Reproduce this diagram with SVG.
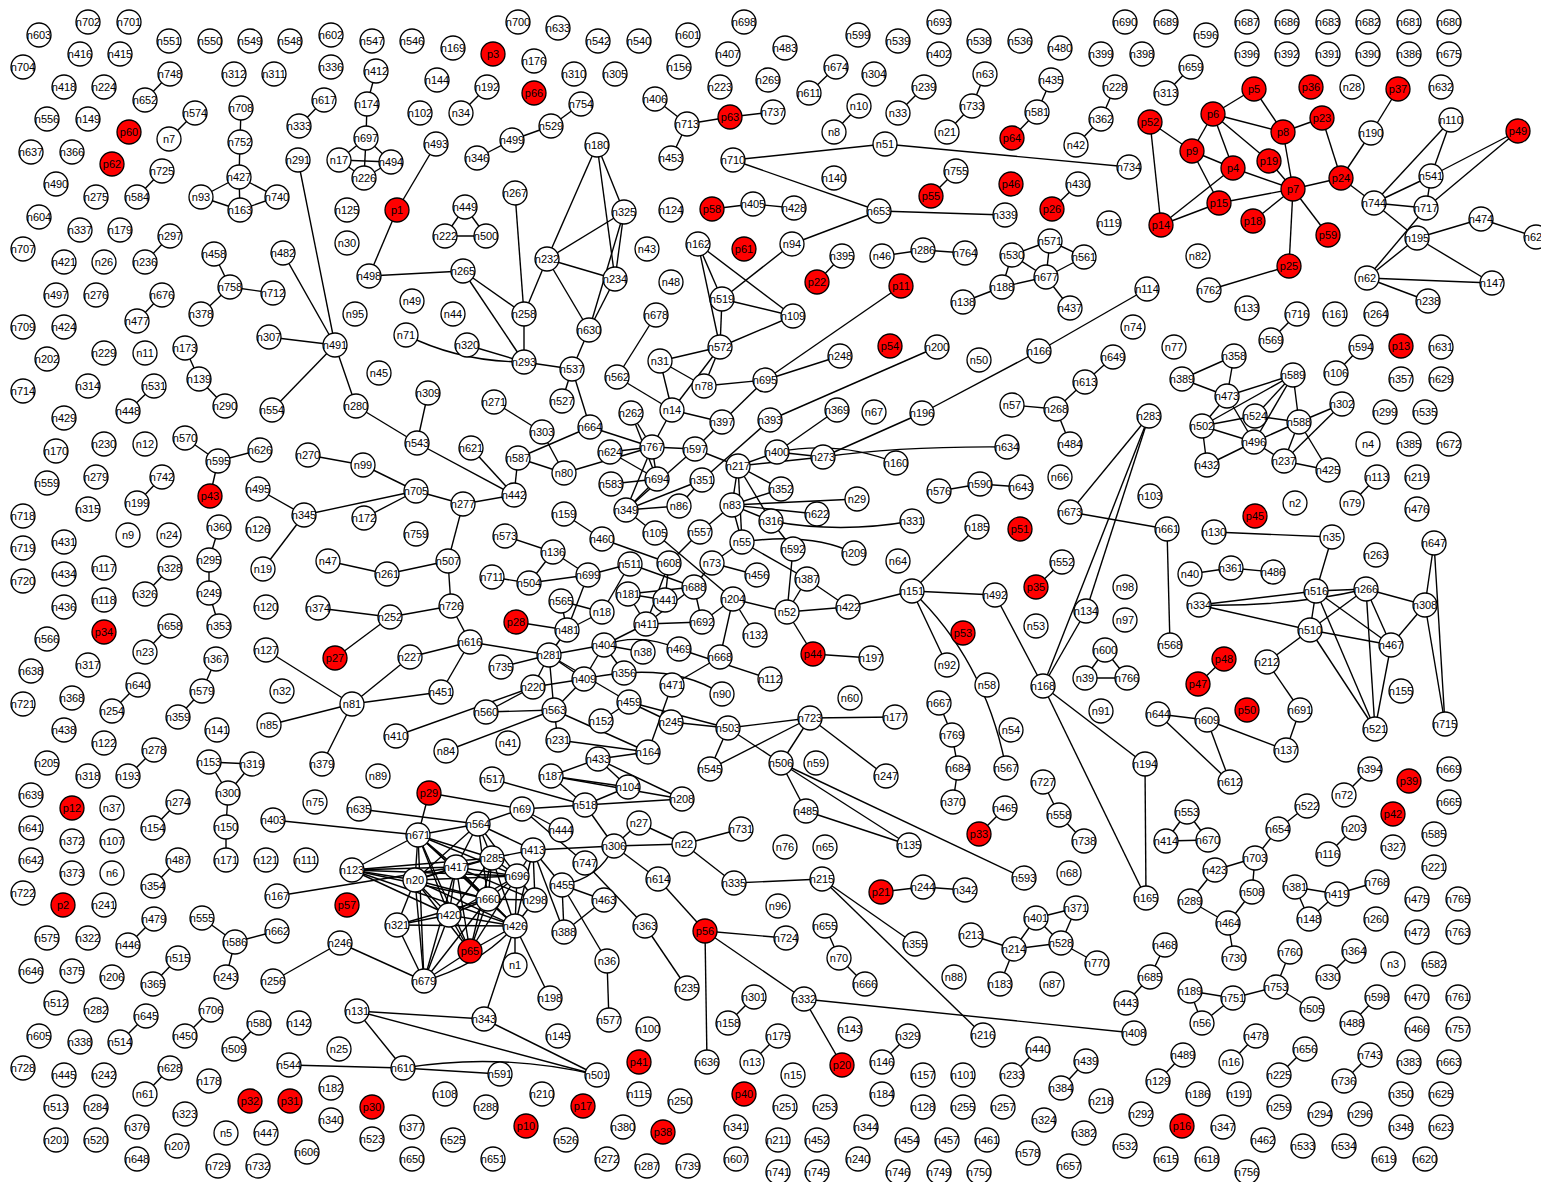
<svg xmlns="http://www.w3.org/2000/svg" width="1541" height="1182" viewBox="0 0 1541 1182">
<style>
.e path{stroke:#000;stroke-width:1.4;fill:none}
.nd circle{fill:#fff;stroke:#000;stroke-width:1.3}
.nd .p circle{fill:#f00}
.nd text{font-family:"Liberation Sans",Arial,sans-serif;font-size:11px;text-anchor:middle;dominant-baseline:central;fill:#000}
</style>
<rect width="1541" height="1182" fill="#fff"/>
<g class="e">
<path d="M170 74L145 100"/><path d="M195 113L169 139"/><path d="M162 171L137 197"/><path d="M170 236L145 262"/><path d="M162 295L137 321"/>
<path d="M241 108L240 142"/><path d="M240 142L239 177"/><path d="M239 177L201 197"/><path d="M239 177L277 197"/><path d="M239 177L240 210"/><path d="M201 197L240 210"/><path d="M240 210L277 197"/>
<path d="M214 254L230 287"/><path d="M230 287L273 293"/><path d="M230 287L201 314"/><path d="M324 100L299 126"/><path d="M376 71L367 104"/><path d="M367 104L366 138"/>
<path d="M366 138L339 160"/><path d="M366 138L391 162"/><path d="M366 138L364 178"/><path d="M339 160L391 162"/><path d="M339 160L364 178"/><path d="M364 178L391 162"/>
<path d="M298 160L335 345"/><path d="M283 253L335 345"/><path d="M269 337L335 345"/><path d="M335 345L272 410"/><path d="M335 345L356 406"/>
<path d="M185 348L199 379"/><path d="M199 379L225 406"/><path d="M436 144L397 210"/><path d="M397 210L369 276"/><path d="M369 276L463 271"/><path d="M128 411L154 386"/>
<path d="M487 87L461 113"/><path d="M581 104L551 126"/><path d="M551 126L512 140"/><path d="M512 140L477 158"/><path d="M465 207L445 236"/><path d="M465 207L486 236"/><path d="M445 236L486 236"/>
<path d="M655 99L687 124"/><path d="M687 124L730 117"/><path d="M730 117L773 112"/><path d="M687 124L671 158"/><path d="M733 160L885 144"/><path d="M733 160L879 211"/><path d="M885 144L1129 167"/>
<path d="M712 209L753 204"/><path d="M753 204L794 208"/><path d="M515 193L524 314"/><path d="M463 271L524 314"/><path d="M463 271L524 362"/><path d="M524 314L524 362"/><path d="M524 314L547 259"/>
<path d="M547 259L597 145"/><path d="M547 259L624 212"/><path d="M547 259L615 279"/><path d="M547 259L589 330"/><path d="M597 145L624 212"/><path d="M597 145L615 279"/><path d="M624 212L615 279"/><path d="M624 212L589 330"/><path d="M615 279L589 330"/>
<path d="M589 330L572 369"/><path d="M524 362L572 369"/><path d="M406 335Q460 362 524 362"/><path d="M467 345L524 362"/><path d="M572 369L562 401"/><path d="M572 369L590 427"/>
<path d="M656 315L617 377"/><path d="M617 377L672 410"/><path d="M660 361L720 347"/><path d="M660 361L704 386"/><path d="M660 361L672 410"/><path d="M720 347L672 410"/><path d="M720 347L704 386"/>
<path d="M698 244L722 299"/><path d="M698 244L720 347"/><path d="M698 244L793 316"/><path d="M722 299L720 347"/><path d="M722 299L793 316"/><path d="M722 299L792 244"/><path d="M720 347L793 316"/><path d="M704 386L765 380"/>
<path d="M879 211L792 244"/><path d="M879 211L1005 215"/><path d="M836 67L809 93"/><path d="M859 106L834 132"/><path d="M924 87L898 113"/><path d="M985 74L972 106"/><path d="M972 106L947 132"/>
<path d="M1051 80L1037 112"/><path d="M1037 112L1012 138"/><path d="M1115 87L1101 119"/><path d="M1101 119L1076 145"/><path d="M956 171L931 196"/><path d="M1078 184L1052 209"/><path d="M842 256L817 282"/>
<path d="M882 256L923 250"/><path d="M923 250L965 253"/><path d="M1012 255L1050 241"/><path d="M1050 241L1084 257"/><path d="M1050 241L1046 277"/><path d="M1084 257L1046 277"/><path d="M1012 255L1046 277"/><path d="M1012 255L1002 287"/><path d="M1002 287L1046 277"/><path d="M1002 287L963 302"/><path d="M1046 277L1070 308"/>
<path d="M901 286L765 380"/><path d="M765 380L840 356"/><path d="M937 347L770 420"/><path d="M1147 289L1039 351"/><path d="M1039 351L922 413"/><path d="M922 413L823 457"/><path d="M1113 357L1085 382"/><path d="M1085 382L1056 409"/>
<path d="M1191 67L1166 93"/><path d="M1254 89L1213 114"/><path d="M1254 89L1283 132"/><path d="M1213 114L1283 132"/><path d="M1213 114L1192 151"/><path d="M1213 114L1233 168"/><path d="M1213 114L1269 161"/>
<path d="M1150 122L1192 151"/><path d="M1150 122L1161 225"/><path d="M1192 151L1233 168"/><path d="M1192 151L1219 203"/><path d="M1233 168L1293 189"/><path d="M1233 168L1161 225"/><path d="M1219 203L1161 225"/><path d="M1219 203L1293 189"/>
<path d="M1283 132L1322 118"/><path d="M1283 132L1293 189"/><path d="M1269 161L1293 189"/><path d="M1293 189L1253 221"/><path d="M1293 189L1328 235"/><path d="M1293 189L1289 266"/><path d="M1293 189L1341 178"/><path d="M1322 118L1341 178"/>
<path d="M1341 178L1371 133"/><path d="M1371 133L1398 89"/><path d="M1341 178L1374 203"/><path d="M1374 203L1451 120"/><path d="M1374 203L1431 176"/><path d="M1374 203L1426 208"/><path d="M1374 203L1417 238"/>
<path d="M1451 120L1431 176"/><path d="M1431 176L1518 131"/><path d="M1431 176L1426 208"/><path d="M1426 208L1518 131"/><path d="M1426 208L1367 278"/><path d="M1417 238L1367 278"/><path d="M1417 238L1481 219"/><path d="M1417 238L1492 283"/><path d="M1481 219L1536 237"/>
<path d="M1367 278L1492 283"/><path d="M1367 278L1428 301"/><path d="M1289 266L1209 290"/><path d="M1297 314L1271 340"/><path d="M1361 347L1336 373"/><path d="M1234 356L1182 379"/><path d="M1234 356L1227 396"/><path d="M1182 379L1227 396"/><path d="M1227 396L1293 375"/>
<path d="M185 438L218 461"/><path d="M218 461L260 450"/><path d="M218 461L210 496"/><path d="M308 455L363 465"/><path d="M363 465L416 491"/><path d="M162 477L137 503"/><path d="M258 489L304 515"/><path d="M304 515L416 491"/><path d="M304 515L263 569"/><path d="M364 518L416 491"/>
<path d="M219 527L209 560"/><path d="M209 560L209 593"/><path d="M209 593L219 626"/><path d="M170 568L145 594"/><path d="M328 561L387 574"/><path d="M387 574L448 561"/><path d="M318 608L390 617"/><path d="M170 626L145 652"/>
<path d="M216 659L202 691"/><path d="M202 691L178 717"/><path d="M138 685L112 711"/><path d="M266 650L352 704"/><path d="M335 658L390 617"/><path d="M352 704L269 725"/><path d="M352 704L322 764"/><path d="M352 704L441 692"/>
<path d="M154 750L128 776"/><path d="M209 762L252 764"/><path d="M209 762L228 793"/><path d="M252 764L228 793"/>
<path d="M356 406L417 443"/><path d="M428 393L417 443"/><path d="M417 443L514 495"/><path d="M494 402L542 432"/><path d="M542 432L564 473"/><path d="M590 427L518 458"/><path d="M590 427L652 447"/><path d="M518 458L564 473"/><path d="M518 458L514 495"/><path d="M471 448L514 495"/>
<path d="M416 491L463 504"/><path d="M463 504L514 495"/><path d="M463 504L448 561"/><path d="M631 413L652 447"/><path d="M631 413L657 479"/><path d="M672 410L652 447"/><path d="M672 410L722 422"/><path d="M722 422L765 380"/>
<path d="M652 447L695 449"/><path d="M652 447L610 452"/><path d="M652 447L657 479"/><path d="M652 447L626 510"/><path d="M564 473L652 447"/><path d="M610 452L657 479"/><path d="M695 449L626 510"/><path d="M695 449L738 466"/><path d="M695 449L722 422"/>
<path d="M657 479L611 484"/><path d="M657 479L626 510"/><path d="M702 480L626 510"/><path d="M702 480L679 506"/><path d="M702 480L770 420"/><path d="M626 510L679 506"/><path d="M626 510L655 533"/><path d="M655 533L733 599"/>
<path d="M700 532L669 563"/><path d="M700 532L732 505"/><path d="M732 505L738 466"/><path d="M732 505L742 542"/><path d="M738 466L742 542"/><path d="M564 514L602 539"/><path d="M602 539L669 563"/>
<path d="M505 536L553 552"/><path d="M553 552L588 575"/><path d="M553 552L529 583"/><path d="M492 577L529 583"/><path d="M529 583L588 575"/><path d="M588 575L630 564"/><path d="M588 575L567 630"/>
<path d="M630 564L694 587"/><path d="M630 564L602 612"/><path d="M669 563L646 624"/><path d="M669 563L665 600"/><path d="M712 563L694 587"/><path d="M712 563L757 575"/><path d="M712 563L742 542"/>
<path d="M628 594L694 587"/><path d="M628 594L665 600"/><path d="M628 594L646 624"/><path d="M646 624L694 587"/><path d="M694 587L702 622"/><path d="M646 624L702 622"/>
<path d="M561 601L602 612"/><path d="M561 601L567 630"/><path d="M602 612L567 630"/><path d="M516 622L567 630"/><path d="M567 630L549 655"/><path d="M646 624L604 645"/>
<path d="M733 599L702 622"/><path d="M733 599L720 657"/><path d="M733 599L755 635"/><path d="M733 599L787 612"/>
<path d="M604 645L549 655"/><path d="M604 645L643 652"/><path d="M604 645Q640 632 679 649"/><path d="M604 645L584 679"/><path d="M604 645L624 673"/><path d="M679 649L770 679"/>
<path d="M549 655L470 642"/><path d="M549 655L501 667"/><path d="M549 655L533 687"/><path d="M549 655L554 710"/><path d="M549 655L584 679"/><path d="M549 655L629 702"/>
<path d="M470 642L451 606"/><path d="M470 642L410 657"/><path d="M470 642L441 692"/><path d="M451 606L448 561"/><path d="M451 606L390 617"/><path d="M410 657L352 704"/>
<path d="M584 679L533 687"/><path d="M584 679L554 710"/><path d="M584 679Q670 660 722 694"/><path d="M720 657L672 685"/><path d="M533 687L486 712"/><path d="M533 687L396 736"/>
<path d="M554 710L486 712"/><path d="M554 710L446 751"/><path d="M554 710L558 740"/><path d="M554 710L648 752"/><path d="M629 702L601 721"/><path d="M629 702L671 722"/><path d="M629 702L728 728"/>
<path d="M672 685L648 752"/><path d="M671 722L728 728"/><path d="M728 728L710 769"/><path d="M728 728L810 718"/><path d="M728 728L781 763"/><path d="M710 769L810 718"/><path d="M558 740L648 752"/>
<path d="M598 759L648 752"/><path d="M598 759L551 776"/><path d="M598 759L628 787"/><path d="M598 759L682 799"/><path d="M551 776L628 787"/><path d="M551 776L682 799"/><path d="M551 776L585 805"/><path d="M492 779L585 805"/><path d="M585 805L628 787"/><path d="M585 805L682 799"/>
<path d="M837 410L777 452"/><path d="M777 452L823 457"/><path d="M777 452Q840 440 896 463"/><path d="M777 452L738 466"/><path d="M823 457Q900 446 1007 447"/><path d="M823 457L738 466"/>
<path d="M781 489L732 505"/><path d="M857 499L732 505"/><path d="M817 514L732 505"/><path d="M771 521L732 505"/><path d="M738 466L781 489"/><path d="M738 466L771 521"/>
<path d="M771 521Q840 534 912 521"/><path d="M771 521L793 549"/><path d="M742 542Q810 532 854 553"/><path d="M742 542L807 579"/><path d="M793 549L787 612"/><path d="M807 579L787 612"/><path d="M807 579L848 607"/><path d="M787 612L848 607"/>
<path d="M787 612L813 654"/><path d="M813 654L871 658"/><path d="M848 607L912 591"/><path d="M912 591L977 527"/><path d="M912 591L995 595"/><path d="M912 591L947 665"/><path d="M912 591Q985 660 1006 768"/><path d="M995 595L1043 686"/>
<path d="M939 491L980 484"/><path d="M980 484L1021 487"/><path d="M1062 562L1036 587"/><path d="M1012 405L1056 409"/><path d="M1056 409L1070 444"/><path d="M1070 512L1149 416"/><path d="M1070 512L1167 529"/>
<path d="M1149 416L1086 611"/><path d="M1149 416L1043 686"/><path d="M1086 611L1043 686"/><path d="M1105 650L1085 678"/><path d="M1105 650L1127 678"/><path d="M1085 678L1127 678"/>
<path d="M1043 686L1145 764"/><path d="M1043 686L1146 898"/><path d="M1145 764L1146 898"/><path d="M1167 529L1170 645"/><path d="M939 703L952 735"/><path d="M952 735L958 768"/><path d="M958 768L953 802"/>
<path d="M810 718L895 717"/><path d="M810 718L781 763"/><path d="M810 718L886 776"/><path d="M781 763L806 811"/><path d="M781 763L909 845"/><path d="M781 763L1024 878"/><path d="M806 811L909 845"/>
<path d="M1293 375L1202 426"/><path d="M1293 375L1255 416"/><path d="M1293 375L1254 442"/><path d="M1293 375L1299 422"/><path d="M1227 396L1202 426"/><path d="M1227 396L1254 442"/><path d="M1202 426L1255 416"/><path d="M1202 426L1254 442"/><path d="M1202 426L1207 465"/>
<path d="M1255 416L1299 422"/><path d="M1254 442L1299 422"/><path d="M1254 442L1207 465"/><path d="M1254 442L1284 461"/><path d="M1299 422L1284 461"/><path d="M1299 422L1328 470"/><path d="M1299 422L1342 404"/><path d="M1342 404L1284 461"/><path d="M1284 461L1328 470"/>
<path d="M1377 477L1352 503"/><path d="M1214 532L1332 537"/><path d="M1332 537L1316 591"/><path d="M1190 574L1231 568"/><path d="M1231 568L1273 572"/>
<path d="M1316 591L1366 589"/><path d="M1316 591L1199 605"/><path d="M1316 591L1310 630"/><path d="M1316 591L1391 645"/><path d="M1316 591L1375 729"/><path d="M1199 605Q1290 607 1366 589"/>
<path d="M1366 589L1310 630"/><path d="M1366 589L1425 605"/><path d="M1366 589L1391 645"/><path d="M1366 589L1375 729"/><path d="M1199 605L1310 630"/><path d="M1310 630L1391 645"/><path d="M1310 630L1267 662"/><path d="M1310 630L1375 729"/>
<path d="M1391 645L1425 605"/><path d="M1391 645L1375 729"/><path d="M1434 543L1425 605"/><path d="M1434 543L1445 724"/><path d="M1425 605L1445 724"/>
<path d="M1267 662L1300 710"/><path d="M1300 710L1286 750"/><path d="M1207 720L1286 750"/><path d="M1207 720L1158 714"/><path d="M1207 720L1230 782"/><path d="M1158 714L1230 782"/><path d="M1224 659L1198 684"/><path d="M1370 769L1344 795"/>
<path d="M178 802L153 828"/><path d="M228 793L226 827"/><path d="M226 827L226 860"/><path d="M273 820L418 835"/><path d="M359 809L478 824"/><path d="M178 860L153 886"/><path d="M277 896L456 867"/><path d="M154 919L128 945"/>
<path d="M202 918L235 942"/><path d="M235 942L277 931"/><path d="M235 942L226 977"/><path d="M178 958L153 984"/><path d="M340 943L273 981"/><path d="M340 943L424 981"/><path d="M146 1016L120 1042"/><path d="M211 1010L185 1036"/><path d="M259 1023L234 1049"/>
<path d="M357 1011L484 1019"/><path d="M357 1011L597 1075"/><path d="M357 1011L403 1068"/><path d="M289 1065L403 1068"/><path d="M170 1068L145 1094"/>
<path d="M429 793L522 809"/><path d="M429 793L418 835"/><path d="M522 809L478 824"/><path d="M522 809L585 805"/><path d="M522 809L561 830"/><path d="M522 809L585 863"/><path d="M585 863L645 926"/><path d="M585 805L614 846"/>
<path d="M533 850L614 846"/><path d="M614 846L639 823"/><path d="M614 846L684 844"/><path d="M614 846L658 879"/><path d="M614 846Q600 878 562 885"/><path d="M639 823L684 844"/><path d="M684 844L741 829"/><path d="M684 844L734 883"/><path d="M734 883L822 879"/>
<path d="M658 879L705 931"/><path d="M705 931L707 1062"/><path d="M705 931L786 938"/><path d="M705 931L804 999"/><path d="M645 926L687 988"/><path d="M562 885L604 900"/><path d="M562 885L564 932"/><path d="M562 885L607 961"/><path d="M604 900L564 932"/><path d="M607 961L609 1020"/>
<path d="M533 850L562 885"/><path d="M533 850L564 932"/><path d="M533 850L535 900"/><path d="M533 850L515 926"/><path d="M533 850L517 876"/><path d="M533 850L492 858"/>
<path d="M515 926L515 965"/><path d="M515 926L550 998"/><path d="M515 926L484 1019"/><path d="M484 1019L597 1075"/><path d="M403 1068L500 1074"/><path d="M403 1068Q500 1052 597 1075"/><path d="M754 997L728 1023"/><path d="M752 1062L778 1036"/>
<path d="M352 870L418 835"/><path d="M352 870L456 867"/><path d="M352 870L415 880"/><path d="M352 870L492 858"/><path d="M352 870L517 876"/><path d="M352 870L488 899"/><path d="M352 870L515 926"/><path d="M352 870L449 915"/>
<path d="M418 835L478 824"/><path d="M418 835L456 867"/><path d="M418 835L415 880"/><path d="M418 835L492 858"/><path d="M418 835L488 899"/><path d="M418 835L449 915"/><path d="M418 835L515 926"/><path d="M418 835L470 951"/><path d="M418 835L424 981"/><path d="M418 835L517 876"/>
<path d="M478 824L456 867"/><path d="M478 824L492 858"/><path d="M478 824L517 876"/><path d="M478 824L415 880"/><path d="M478 824L488 899"/><path d="M478 824L533 850"/>
<path d="M456 867L415 880"/><path d="M456 867L492 858"/><path d="M456 867L517 876"/><path d="M456 867L488 899"/><path d="M456 867L449 915"/><path d="M456 867L515 926"/><path d="M456 867L470 951"/><path d="M456 867L424 981"/><path d="M456 867L535 900"/>
<path d="M415 880L492 858"/><path d="M415 880L517 876"/><path d="M415 880L488 899"/><path d="M415 880L449 915"/><path d="M415 880L515 926"/><path d="M415 880L470 951"/><path d="M415 880L424 981"/><path d="M415 880L397 925"/>
<path d="M492 858L517 876"/><path d="M492 858L488 899"/><path d="M492 858L515 926"/><path d="M492 858L470 951"/><path d="M492 858L449 915"/>
<path d="M517 876L488 899"/><path d="M517 876L535 900"/><path d="M517 876L515 926"/><path d="M517 876L470 951"/><path d="M517 876L449 915"/>
<path d="M488 899L449 915"/><path d="M488 899L515 926"/><path d="M488 899L470 951"/><path d="M488 899L535 900"/><path d="M488 899L424 981"/><path d="M488 899L397 925"/>
<path d="M449 915L515 926"/><path d="M449 915L470 951"/><path d="M449 915L424 981"/><path d="M449 915L397 925"/><path d="M397 925L515 926"/><path d="M397 925L424 981"/>
<path d="M515 926L470 951"/><path d="M515 926Q480 965 424 981"/><path d="M515 926L535 900"/><path d="M470 951L424 981"/>
<path d="M979 834L1005 808"/><path d="M1059 815L1084 841"/><path d="M1059 815L1043 782"/><path d="M822 879L915 944"/><path d="M822 879L983 1035"/><path d="M881 892L923 887"/><path d="M923 887L965 890"/>
<path d="M1036 918L1076 908"/><path d="M1036 918L1014 949"/><path d="M1036 918L1061 943"/><path d="M1076 908L1061 943"/><path d="M971 935L1014 949"/><path d="M1014 949L1061 943"/><path d="M1014 949L1000 984"/><path d="M1061 943L1097 963"/>
<path d="M825 926L839 958"/><path d="M839 958L865 984"/><path d="M804 999L842 1065"/><path d="M804 999L1134 1033"/><path d="M1150 977L1126 1003"/><path d="M1150 977L1165 945"/><path d="M908 1036L882 1062"/><path d="M1038 1049L1012 1075"/><path d="M1086 1061L1061 1088"/>
<path d="M1187 812L1166 841"/><path d="M1187 812L1208 840"/><path d="M1166 841L1208 840"/><path d="M1307 806L1278 829"/><path d="M1278 829L1255 858"/><path d="M1354 828L1328 854"/><path d="M1255 858L1215 870"/><path d="M1255 858L1252 892"/>
<path d="M1215 870L1190 901"/><path d="M1190 901L1228 923"/><path d="M1252 892L1228 923"/><path d="M1228 923L1234 958"/><path d="M1295 887L1337 894"/><path d="M1295 887L1309 919"/><path d="M1309 919L1337 894"/><path d="M1337 894L1377 882"/>
<path d="M1290 952L1276 987"/><path d="M1276 987L1233 998"/><path d="M1276 987L1312 1009"/><path d="M1190 991L1233 998"/><path d="M1190 991L1202 1023"/><path d="M1202 1023L1233 998"/>
<path d="M1354 951L1328 977"/><path d="M1377 997L1352 1023"/><path d="M1256 1036L1231 1062"/><path d="M1305 1049L1279 1075"/><path d="M1370 1055L1344 1081"/><path d="M1183 1055L1158 1081"/>
</g>
<g class="nd">
<g id="n603" transform="translate(39,35)"><circle r="12"/><text>n603</text></g>
<g id="n702" transform="translate(88,22)"><circle r="12"/><text>n702</text></g>
<g id="n701" transform="translate(129,22)"><circle r="12"/><text>n701</text></g>
<g id="n551" transform="translate(169,41)"><circle r="12"/><text>n551</text></g>
<g id="n550" transform="translate(210,41)"><circle r="12"/><text>n550</text></g>
<g id="n549" transform="translate(250,41)"><circle r="12"/><text>n549</text></g>
<g id="n548" transform="translate(290,41)"><circle r="12"/><text>n548</text></g>
<g id="n602" transform="translate(331,35)"><circle r="12"/><text>n602</text></g>
<g id="n547" transform="translate(372,41)"><circle r="12"/><text>n547</text></g>
<g id="n546" transform="translate(412,41)"><circle r="12"/><text>n546</text></g>
<g id="n169" transform="translate(453,48)"><circle r="12"/><text>n169</text></g>
<g id="p3" class="p" transform="translate(493,54)"><circle r="12"/><text>p3</text></g>
<g id="n700" transform="translate(518,22)"><circle r="12"/><text>n700</text></g>
<g id="n633" transform="translate(558,28)"><circle r="12"/><text>n633</text></g>
<g id="n542" transform="translate(598,41)"><circle r="12"/><text>n542</text></g>
<g id="n540" transform="translate(639,41)"><circle r="12"/><text>n540</text></g>
<g id="n601" transform="translate(688,35)"><circle r="12"/><text>n601</text></g>
<g id="n698" transform="translate(744,22)"><circle r="12"/><text>n698</text></g>
<g id="n407" transform="translate(728,54)"><circle r="12"/><text>n407</text></g>
<g id="n483" transform="translate(785,48)"><circle r="12"/><text>n483</text></g>
<g id="n599" transform="translate(858,35)"><circle r="12"/><text>n599</text></g>
<g id="n539" transform="translate(898,41)"><circle r="12"/><text>n539</text></g>
<g id="n693" transform="translate(939,22)"><circle r="12"/><text>n693</text></g>
<g id="n402" transform="translate(939,54)"><circle r="12"/><text>n402</text></g>
<g id="n538" transform="translate(979,41)"><circle r="12"/><text>n538</text></g>
<g id="n536" transform="translate(1020,41)"><circle r="12"/><text>n536</text></g>
<g id="n480" transform="translate(1060,48)"><circle r="12"/><text>n480</text></g>
<g id="n690" transform="translate(1125,22)"><circle r="12"/><text>n690</text></g>
<g id="n399" transform="translate(1101,54)"><circle r="12"/><text>n399</text></g>
<g id="n398" transform="translate(1142,54)"><circle r="12"/><text>n398</text></g>
<g id="n689" transform="translate(1166,22)"><circle r="12"/><text>n689</text></g>
<g id="n596" transform="translate(1206,35)"><circle r="12"/><text>n596</text></g>
<g id="n687" transform="translate(1247,22)"><circle r="12"/><text>n687</text></g>
<g id="n686" transform="translate(1287,22)"><circle r="12"/><text>n686</text></g>
<g id="n683" transform="translate(1328,22)"><circle r="12"/><text>n683</text></g>
<g id="n682" transform="translate(1368,22)"><circle r="12"/><text>n682</text></g>
<g id="n681" transform="translate(1409,22)"><circle r="12"/><text>n681</text></g>
<g id="n680" transform="translate(1449,22)"><circle r="12"/><text>n680</text></g>
<g id="n396" transform="translate(1247,54)"><circle r="12"/><text>n396</text></g>
<g id="n392" transform="translate(1287,54)"><circle r="12"/><text>n392</text></g>
<g id="n391" transform="translate(1328,54)"><circle r="12"/><text>n391</text></g>
<g id="n390" transform="translate(1368,54)"><circle r="12"/><text>n390</text></g>
<g id="n386" transform="translate(1409,54)"><circle r="12"/><text>n386</text></g>
<g id="n675" transform="translate(1449,54)"><circle r="12"/><text>n675</text></g>
<g id="n416" transform="translate(80,54)"><circle r="12"/><text>n416</text></g>
<g id="n415" transform="translate(120,54)"><circle r="12"/><text>n415</text></g>
<g id="n704" transform="translate(23,67)"><circle r="12"/><text>n704</text></g>
<g id="n748" transform="translate(170,74)"><circle r="12"/><text>n748</text></g>
<g id="n312" transform="translate(234,74)"><circle r="12"/><text>n312</text></g>
<g id="n311" transform="translate(274,74)"><circle r="12"/><text>n311</text></g>
<g id="n336" transform="translate(331,67)"><circle r="12"/><text>n336</text></g>
<g id="n412" transform="translate(376,71)"><circle r="12"/><text>n412</text></g>
<g id="n418" transform="translate(64,87)"><circle r="12"/><text>n418</text></g>
<g id="n224" transform="translate(104,87)"><circle r="12"/><text>n224</text></g>
<g id="n652" transform="translate(145,100)"><circle r="12"/><text>n652</text></g>
<g id="n617" transform="translate(324,100)"><circle r="12"/><text>n617</text></g>
<g id="n174" transform="translate(367,104)"><circle r="12"/><text>n174</text></g>
<g id="n176" transform="translate(534,61)"><circle r="12"/><text>n176</text></g>
<g id="n144" transform="translate(437,80)"><circle r="12"/><text>n144</text></g>
<g id="n192" transform="translate(487,87)"><circle r="12"/><text>n192</text></g>
<g id="n310" transform="translate(574,74)"><circle r="12"/><text>n310</text></g>
<g id="n305" transform="translate(615,74)"><circle r="12"/><text>n305</text></g>
<g id="n156" transform="translate(679,67)"><circle r="12"/><text>n156</text></g>
<g id="n223" transform="translate(720,87)"><circle r="12"/><text>n223</text></g>
<g id="n269" transform="translate(768,80)"><circle r="12"/><text>n269</text></g>
<g id="p66" class="p" transform="translate(534,93)"><circle r="12"/><text>p66</text></g>
<g id="n406" transform="translate(655,99)"><circle r="12"/><text>n406</text></g>
<g id="n754" transform="translate(581,104)"><circle r="12"/><text>n754</text></g>
<g id="n102" transform="translate(420,113)"><circle r="12"/><text>n102</text></g>
<g id="n34" transform="translate(461,113)"><circle r="12"/><text>n34</text></g>
<g id="n529" transform="translate(551,126)"><circle r="12"/><text>n529</text></g>
<g id="n713" transform="translate(687,124)"><circle r="12"/><text>n713</text></g>
<g id="p63" class="p" transform="translate(730,117)"><circle r="12"/><text>p63</text></g>
<g id="n737" transform="translate(773,112)"><circle r="12"/><text>n737</text></g>
<g id="n674" transform="translate(836,67)"><circle r="12"/><text>n674</text></g>
<g id="n304" transform="translate(874,74)"><circle r="12"/><text>n304</text></g>
<g id="n63" transform="translate(985,74)"><circle r="12"/><text>n63</text></g>
<g id="n435" transform="translate(1051,80)"><circle r="12"/><text>n435</text></g>
<g id="n228" transform="translate(1115,87)"><circle r="12"/><text>n228</text></g>
<g id="n611" transform="translate(809,93)"><circle r="12"/><text>n611</text></g>
<g id="n239" transform="translate(924,87)"><circle r="12"/><text>n239</text></g>
<g id="n10" transform="translate(859,106)"><circle r="12"/><text>n10</text></g>
<g id="n33" transform="translate(898,113)"><circle r="12"/><text>n33</text></g>
<g id="n733" transform="translate(972,106)"><circle r="12"/><text>n733</text></g>
<g id="n581" transform="translate(1037,112)"><circle r="12"/><text>n581</text></g>
<g id="n362" transform="translate(1101,119)"><circle r="12"/><text>n362</text></g>
<g id="p52" class="p" transform="translate(1150,122)"><circle r="12"/><text>p52</text></g>
<g id="n8" transform="translate(834,132)"><circle r="12"/><text>n8</text></g>
<g id="n21" transform="translate(947,132)"><circle r="12"/><text>n21</text></g>
<g id="p64" class="p" transform="translate(1012,138)"><circle r="12"/><text>p64</text></g>
<g id="n42" transform="translate(1076,145)"><circle r="12"/><text>n42</text></g>
<g id="n51" transform="translate(885,144)"><circle r="12"/><text>n51</text></g>
<g id="n734" transform="translate(1129,167)"><circle r="12"/><text>n734</text></g>
<g id="n659" transform="translate(1191,67)"><circle r="12"/><text>n659</text></g>
<g id="n313" transform="translate(1166,93)"><circle r="12"/><text>n313</text></g>
<g id="p5" class="p" transform="translate(1254,89)"><circle r="12"/><text>p5</text></g>
<g id="p36" class="p" transform="translate(1311,87)"><circle r="12"/><text>p36</text></g>
<g id="n28" transform="translate(1352,87)"><circle r="12"/><text>n28</text></g>
<g id="p37" class="p" transform="translate(1398,89)"><circle r="12"/><text>p37</text></g>
<g id="n632" transform="translate(1441,87)"><circle r="12"/><text>n632</text></g>
<g id="p6" class="p" transform="translate(1213,114)"><circle r="12"/><text>p6</text></g>
<g id="p8" class="p" transform="translate(1283,132)"><circle r="12"/><text>p8</text></g>
<g id="p23" class="p" transform="translate(1322,118)"><circle r="12"/><text>p23</text></g>
<g id="n190" transform="translate(1371,133)"><circle r="12"/><text>n190</text></g>
<g id="n110" transform="translate(1451,120)"><circle r="12"/><text>n110</text></g>
<g id="p49" class="p" transform="translate(1518,131)"><circle r="12"/><text>p49</text></g>
<g id="n556" transform="translate(47,119)"><circle r="12"/><text>n556</text></g>
<g id="n149" transform="translate(88,119)"><circle r="12"/><text>n149</text></g>
<g id="p60" class="p" transform="translate(129,132)"><circle r="12"/><text>p60</text></g>
<g id="n574" transform="translate(195,113)"><circle r="12"/><text>n574</text></g>
<g id="n708" transform="translate(241,108)"><circle r="12"/><text>n708</text></g>
<g id="n333" transform="translate(299,126)"><circle r="12"/><text>n333</text></g>
<g id="n7" transform="translate(169,139)"><circle r="12"/><text>n7</text></g>
<g id="n752" transform="translate(240,142)"><circle r="12"/><text>n752</text></g>
<g id="n697" transform="translate(366,138)"><circle r="12"/><text>n697</text></g>
<g id="n637" transform="translate(31,152)"><circle r="12"/><text>n637</text></g>
<g id="n366" transform="translate(72,152)"><circle r="12"/><text>n366</text></g>
<g id="p62" class="p" transform="translate(112,164)"><circle r="12"/><text>p62</text></g>
<g id="n725" transform="translate(162,171)"><circle r="12"/><text>n725</text></g>
<g id="n291" transform="translate(298,160)"><circle r="12"/><text>n291</text></g>
<g id="n17" transform="translate(339,160)"><circle r="12"/><text>n17</text></g>
<g id="n494" transform="translate(391,162)"><circle r="12"/><text>n494</text></g>
<g id="n226" transform="translate(364,178)"><circle r="12"/><text>n226</text></g>
<g id="n427" transform="translate(239,177)"><circle r="12"/><text>n427</text></g>
<g id="n493" transform="translate(436,144)"><circle r="12"/><text>n493</text></g>
<g id="n499" transform="translate(512,140)"><circle r="12"/><text>n499</text></g>
<g id="n180" transform="translate(597,145)"><circle r="12"/><text>n180</text></g>
<g id="n346" transform="translate(477,158)"><circle r="12"/><text>n346</text></g>
<g id="n453" transform="translate(671,158)"><circle r="12"/><text>n453</text></g>
<g id="n710" transform="translate(733,160)"><circle r="12"/><text>n710</text></g>
<g id="n140" transform="translate(834,178)"><circle r="12"/><text>n140</text></g>
<g id="n755" transform="translate(956,171)"><circle r="12"/><text>n755</text></g>
<g id="p46" class="p" transform="translate(1011,184)"><circle r="12"/><text>p46</text></g>
<g id="n430" transform="translate(1078,184)"><circle r="12"/><text>n430</text></g>
<g id="p9" class="p" transform="translate(1192,151)"><circle r="12"/><text>p9</text></g>
<g id="p4" class="p" transform="translate(1233,168)"><circle r="12"/><text>p4</text></g>
<g id="p19" class="p" transform="translate(1269,161)"><circle r="12"/><text>p19</text></g>
<g id="p7" class="p" transform="translate(1293,189)"><circle r="12"/><text>p7</text></g>
<g id="p24" class="p" transform="translate(1341,178)"><circle r="12"/><text>p24</text></g>
<g id="n541" transform="translate(1431,176)"><circle r="12"/><text>n541</text></g>
<g id="n744" transform="translate(1374,203)"><circle r="12"/><text>n744</text></g>
<g id="n717" transform="translate(1426,208)"><circle r="12"/><text>n717</text></g>
<g id="n490" transform="translate(56,184)"><circle r="12"/><text>n490</text></g>
<g id="n275" transform="translate(96,197)"><circle r="12"/><text>n275</text></g>
<g id="n584" transform="translate(137,197)"><circle r="12"/><text>n584</text></g>
<g id="n93" transform="translate(201,197)"><circle r="12"/><text>n93</text></g>
<g id="n740" transform="translate(277,197)"><circle r="12"/><text>n740</text></g>
<g id="n163" transform="translate(240,210)"><circle r="12"/><text>n163</text></g>
<g id="n125" transform="translate(347,210)"><circle r="12"/><text>n125</text></g>
<g id="p1" class="p" transform="translate(397,210)"><circle r="12"/><text>p1</text></g>
<g id="n267" transform="translate(515,193)"><circle r="12"/><text>n267</text></g>
<g id="n449" transform="translate(465,207)"><circle r="12"/><text>n449</text></g>
<g id="n325" transform="translate(624,212)"><circle r="12"/><text>n325</text></g>
<g id="n124" transform="translate(671,210)"><circle r="12"/><text>n124</text></g>
<g id="p58" class="p" transform="translate(712,209)"><circle r="12"/><text>p58</text></g>
<g id="n405" transform="translate(753,204)"><circle r="12"/><text>n405</text></g>
<g id="n428" transform="translate(794,208)"><circle r="12"/><text>n428</text></g>
<g id="p55" class="p" transform="translate(931,196)"><circle r="12"/><text>p55</text></g>
<g id="n653" transform="translate(879,211)"><circle r="12"/><text>n653</text></g>
<g id="n339" transform="translate(1005,215)"><circle r="12"/><text>n339</text></g>
<g id="p26" class="p" transform="translate(1052,209)"><circle r="12"/><text>p26</text></g>
<g id="n119" transform="translate(1109,223)"><circle r="12"/><text>n119</text></g>
<g id="p15" class="p" transform="translate(1219,203)"><circle r="12"/><text>p15</text></g>
<g id="p14" class="p" transform="translate(1161,225)"><circle r="12"/><text>p14</text></g>
<g id="p18" class="p" transform="translate(1253,221)"><circle r="12"/><text>p18</text></g>
<g id="p59" class="p" transform="translate(1328,235)"><circle r="12"/><text>p59</text></g>
<g id="n474" transform="translate(1481,219)"><circle r="12"/><text>n474</text></g>
<g id="n627" transform="translate(1536,237)"><circle r="12"/><text>n627</text></g>
<g id="n195" transform="translate(1417,238)"><circle r="12"/><text>n195</text></g>
<g id="n604" transform="translate(39,217)"><circle r="12"/><text>n604</text></g>
<g id="n337" transform="translate(80,230)"><circle r="12"/><text>n337</text></g>
<g id="n179" transform="translate(120,230)"><circle r="12"/><text>n179</text></g>
<g id="n297" transform="translate(170,236)"><circle r="12"/><text>n297</text></g>
<g id="n30" transform="translate(347,243)"><circle r="12"/><text>n30</text></g>
<g id="n707" transform="translate(23,249)"><circle r="12"/><text>n707</text></g>
<g id="n421" transform="translate(64,262)"><circle r="12"/><text>n421</text></g>
<g id="n26" transform="translate(104,262)"><circle r="12"/><text>n26</text></g>
<g id="n236" transform="translate(145,262)"><circle r="12"/><text>n236</text></g>
<g id="n458" transform="translate(214,254)"><circle r="12"/><text>n458</text></g>
<g id="n482" transform="translate(283,253)"><circle r="12"/><text>n482</text></g>
<g id="n498" transform="translate(369,276)"><circle r="12"/><text>n498</text></g>
<g id="n222" transform="translate(445,236)"><circle r="12"/><text>n222</text></g>
<g id="n500" transform="translate(486,236)"><circle r="12"/><text>n500</text></g>
<g id="n43" transform="translate(647,249)"><circle r="12"/><text>n43</text></g>
<g id="n162" transform="translate(698,244)"><circle r="12"/><text>n162</text></g>
<g id="p61" class="p" transform="translate(744,249)"><circle r="12"/><text>p61</text></g>
<g id="n232" transform="translate(547,259)"><circle r="12"/><text>n232</text></g>
<g id="n265" transform="translate(463,271)"><circle r="12"/><text>n265</text></g>
<g id="n234" transform="translate(615,279)"><circle r="12"/><text>n234</text></g>
<g id="n48" transform="translate(671,282)"><circle r="12"/><text>n48</text></g>
<g id="n519" transform="translate(722,299)"><circle r="12"/><text>n519</text></g>
<g id="n94" transform="translate(792,244)"><circle r="12"/><text>n94</text></g>
<g id="n395" transform="translate(842,256)"><circle r="12"/><text>n395</text></g>
<g id="n46" transform="translate(882,256)"><circle r="12"/><text>n46</text></g>
<g id="n286" transform="translate(923,250)"><circle r="12"/><text>n286</text></g>
<g id="n764" transform="translate(965,253)"><circle r="12"/><text>n764</text></g>
<g id="n530" transform="translate(1012,255)"><circle r="12"/><text>n530</text></g>
<g id="n571" transform="translate(1050,241)"><circle r="12"/><text>n571</text></g>
<g id="n561" transform="translate(1084,257)"><circle r="12"/><text>n561</text></g>
<g id="n677" transform="translate(1046,277)"><circle r="12"/><text>n677</text></g>
<g id="n188" transform="translate(1002,287)"><circle r="12"/><text>n188</text></g>
<g id="n138" transform="translate(963,302)"><circle r="12"/><text>n138</text></g>
<g id="n437" transform="translate(1070,308)"><circle r="12"/><text>n437</text></g>
<g id="p22" class="p" transform="translate(817,282)"><circle r="12"/><text>p22</text></g>
<g id="p11" class="p" transform="translate(901,286)"><circle r="12"/><text>p11</text></g>
<g id="n109" transform="translate(793,316)"><circle r="12"/><text>n109</text></g>
<g id="n114" transform="translate(1147,289)"><circle r="12"/><text>n114</text></g>
<g id="n82" transform="translate(1198,256)"><circle r="12"/><text>n82</text></g>
<g id="p25" class="p" transform="translate(1289,266)"><circle r="12"/><text>p25</text></g>
<g id="n62" transform="translate(1367,278)"><circle r="12"/><text>n62</text></g>
<g id="n147" transform="translate(1492,283)"><circle r="12"/><text>n147</text></g>
<g id="n762" transform="translate(1209,290)"><circle r="12"/><text>n762</text></g>
<g id="n238" transform="translate(1428,301)"><circle r="12"/><text>n238</text></g>
<g id="n497" transform="translate(56,295)"><circle r="12"/><text>n497</text></g>
<g id="n276" transform="translate(96,295)"><circle r="12"/><text>n276</text></g>
<g id="n676" transform="translate(162,295)"><circle r="12"/><text>n676</text></g>
<g id="n758" transform="translate(230,287)"><circle r="12"/><text>n758</text></g>
<g id="n712" transform="translate(273,293)"><circle r="12"/><text>n712</text></g>
<g id="n378" transform="translate(201,314)"><circle r="12"/><text>n378</text></g>
<g id="n477" transform="translate(137,321)"><circle r="12"/><text>n477</text></g>
<g id="n95" transform="translate(355,314)"><circle r="12"/><text>n95</text></g>
<g id="n709" transform="translate(23,327)"><circle r="12"/><text>n709</text></g>
<g id="n424" transform="translate(64,327)"><circle r="12"/><text>n424</text></g>
<g id="n307" transform="translate(269,337)"><circle r="12"/><text>n307</text></g>
<g id="n491" transform="translate(335,345)"><circle r="12"/><text>n491</text></g>
<g id="n49" transform="translate(412,301)"><circle r="12"/><text>n49</text></g>
<g id="n44" transform="translate(453,314)"><circle r="12"/><text>n44</text></g>
<g id="n258" transform="translate(524,314)"><circle r="12"/><text>n258</text></g>
<g id="n678" transform="translate(656,315)"><circle r="12"/><text>n678</text></g>
<g id="n630" transform="translate(589,330)"><circle r="12"/><text>n630</text></g>
<g id="n71" transform="translate(406,335)"><circle r="12"/><text>n71</text></g>
<g id="n320" transform="translate(467,345)"><circle r="12"/><text>n320</text></g>
<g id="n572" transform="translate(720,347)"><circle r="12"/><text>n572</text></g>
<g id="n31" transform="translate(660,361)"><circle r="12"/><text>n31</text></g>
<g id="n293" transform="translate(524,362)"><circle r="12"/><text>n293</text></g>
<g id="n537" transform="translate(572,369)"><circle r="12"/><text>n537</text></g>
<g id="n562" transform="translate(617,377)"><circle r="12"/><text>n562</text></g>
<g id="n78" transform="translate(704,386)"><circle r="12"/><text>n78</text></g>
<g id="n695" transform="translate(765,380)"><circle r="12"/><text>n695</text></g>
<g id="n74" transform="translate(1133,327)"><circle r="12"/><text>n74</text></g>
<g id="p54" class="p" transform="translate(890,346)"><circle r="12"/><text>p54</text></g>
<g id="n248" transform="translate(840,356)"><circle r="12"/><text>n248</text></g>
<g id="n200" transform="translate(937,347)"><circle r="12"/><text>n200</text></g>
<g id="n50" transform="translate(979,360)"><circle r="12"/><text>n50</text></g>
<g id="n166" transform="translate(1039,351)"><circle r="12"/><text>n166</text></g>
<g id="n649" transform="translate(1113,357)"><circle r="12"/><text>n649</text></g>
<g id="n613" transform="translate(1085,382)"><circle r="12"/><text>n613</text></g>
<g id="n133" transform="translate(1247,308)"><circle r="12"/><text>n133</text></g>
<g id="n716" transform="translate(1297,314)"><circle r="12"/><text>n716</text></g>
<g id="n161" transform="translate(1335,314)"><circle r="12"/><text>n161</text></g>
<g id="n264" transform="translate(1376,314)"><circle r="12"/><text>n264</text></g>
<g id="n569" transform="translate(1271,340)"><circle r="12"/><text>n569</text></g>
<g id="n77" transform="translate(1174,347)"><circle r="12"/><text>n77</text></g>
<g id="n594" transform="translate(1361,347)"><circle r="12"/><text>n594</text></g>
<g id="p13" class="p" transform="translate(1401,346)"><circle r="12"/><text>p13</text></g>
<g id="n631" transform="translate(1441,347)"><circle r="12"/><text>n631</text></g>
<g id="n358" transform="translate(1234,356)"><circle r="12"/><text>n358</text></g>
<g id="n389" transform="translate(1182,379)"><circle r="12"/><text>n389</text></g>
<g id="n589" transform="translate(1293,375)"><circle r="12"/><text>n589</text></g>
<g id="n106" transform="translate(1336,373)"><circle r="12"/><text>n106</text></g>
<g id="n357" transform="translate(1401,379)"><circle r="12"/><text>n357</text></g>
<g id="n629" transform="translate(1441,379)"><circle r="12"/><text>n629</text></g>
<g id="n473" transform="translate(1227,396)"><circle r="12"/><text>n473</text></g>
<g id="n173" transform="translate(185,348)"><circle r="12"/><text>n173</text></g>
<g id="n202" transform="translate(47,359)"><circle r="12"/><text>n202</text></g>
<g id="n229" transform="translate(104,353)"><circle r="12"/><text>n229</text></g>
<g id="n11" transform="translate(145,353)"><circle r="12"/><text>n11</text></g>
<g id="n139" transform="translate(199,379)"><circle r="12"/><text>n139</text></g>
<g id="n45" transform="translate(379,373)"><circle r="12"/><text>n45</text></g>
<g id="n714" transform="translate(23,391)"><circle r="12"/><text>n714</text></g>
<g id="n314" transform="translate(88,386)"><circle r="12"/><text>n314</text></g>
<g id="n531" transform="translate(154,386)"><circle r="12"/><text>n531</text></g>
<g id="n309" transform="translate(428,393)"><circle r="12"/><text>n309</text></g>
<g id="n448" transform="translate(128,411)"><circle r="12"/><text>n448</text></g>
<g id="n290" transform="translate(225,406)"><circle r="12"/><text>n290</text></g>
<g id="n554" transform="translate(272,410)"><circle r="12"/><text>n554</text></g>
<g id="n280" transform="translate(356,406)"><circle r="12"/><text>n280</text></g>
<g id="n429" transform="translate(64,418)"><circle r="12"/><text>n429</text></g>
<g id="n230" transform="translate(104,444)"><circle r="12"/><text>n230</text></g>
<g id="n12" transform="translate(145,444)"><circle r="12"/><text>n12</text></g>
<g id="n570" transform="translate(185,438)"><circle r="12"/><text>n570</text></g>
<g id="n170" transform="translate(56,451)"><circle r="12"/><text>n170</text></g>
<g id="n595" transform="translate(218,461)"><circle r="12"/><text>n595</text></g>
<g id="n626" transform="translate(260,450)"><circle r="12"/><text>n626</text></g>
<g id="n270" transform="translate(308,455)"><circle r="12"/><text>n270</text></g>
<g id="n99" transform="translate(363,465)"><circle r="12"/><text>n99</text></g>
<g id="n559" transform="translate(47,483)"><circle r="12"/><text>n559</text></g>
<g id="n279" transform="translate(96,477)"><circle r="12"/><text>n279</text></g>
<g id="n742" transform="translate(162,477)"><circle r="12"/><text>n742</text></g>
<g id="p43" class="p" transform="translate(210,496)"><circle r="12"/><text>p43</text></g>
<g id="n495" transform="translate(258,489)"><circle r="12"/><text>n495</text></g>
<g id="n315" transform="translate(88,509)"><circle r="12"/><text>n315</text></g>
<g id="n199" transform="translate(137,503)"><circle r="12"/><text>n199</text></g>
<g id="n345" transform="translate(304,515)"><circle r="12"/><text>n345</text></g>
<g id="n172" transform="translate(364,518)"><circle r="12"/><text>n172</text></g>
<g id="n718" transform="translate(23,516)"><circle r="12"/><text>n718</text></g>
<g id="n9" transform="translate(128,535)"><circle r="12"/><text>n9</text></g>
<g id="n24" transform="translate(169,535)"><circle r="12"/><text>n24</text></g>
<g id="n360" transform="translate(219,527)"><circle r="12"/><text>n360</text></g>
<g id="n126" transform="translate(258,529)"><circle r="12"/><text>n126</text></g>
<g id="n719" transform="translate(23,548)"><circle r="12"/><text>n719</text></g>
<g id="n431" transform="translate(64,542)"><circle r="12"/><text>n431</text></g>
<g id="n295" transform="translate(209,560)"><circle r="12"/><text>n295</text></g>
<g id="n19" transform="translate(263,569)"><circle r="12"/><text>n19</text></g>
<g id="n47" transform="translate(328,561)"><circle r="12"/><text>n47</text></g>
<g id="n261" transform="translate(387,574)"><circle r="12"/><text>n261</text></g>
<g id="n117" transform="translate(104,568)"><circle r="12"/><text>n117</text></g>
<g id="n328" transform="translate(170,568)"><circle r="12"/><text>n328</text></g>
<g id="n434" transform="translate(64,574)"><circle r="12"/><text>n434</text></g>
<g id="n720" transform="translate(23,581)"><circle r="12"/><text>n720</text></g>
<g id="n326" transform="translate(145,594)"><circle r="12"/><text>n326</text></g>
<g id="n249" transform="translate(209,593)"><circle r="12"/><text>n249</text></g>
<g id="n120" transform="translate(266,607)"><circle r="12"/><text>n120</text></g>
<g id="n374" transform="translate(318,608)"><circle r="12"/><text>n374</text></g>
<g id="n252" transform="translate(390,617)"><circle r="12"/><text>n252</text></g>
<g id="n118" transform="translate(104,600)"><circle r="12"/><text>n118</text></g>
<g id="n436" transform="translate(64,607)"><circle r="12"/><text>n436</text></g>
<g id="n658" transform="translate(170,626)"><circle r="12"/><text>n658</text></g>
<g id="n353" transform="translate(219,626)"><circle r="12"/><text>n353</text></g>
<g id="p34" class="p" transform="translate(104,632)"><circle r="12"/><text>p34</text></g>
<g id="n566" transform="translate(47,639)"><circle r="12"/><text>n566</text></g>
<g id="n23" transform="translate(145,652)"><circle r="12"/><text>n23</text></g>
<g id="n127" transform="translate(266,650)"><circle r="12"/><text>n127</text></g>
<g id="p27" class="p" transform="translate(335,658)"><circle r="12"/><text>p27</text></g>
<g id="n367" transform="translate(216,659)"><circle r="12"/><text>n367</text></g>
<g id="n317" transform="translate(88,665)"><circle r="12"/><text>n317</text></g>
<g id="n638" transform="translate(31,671)"><circle r="12"/><text>n638</text></g>
<g id="n640" transform="translate(138,685)"><circle r="12"/><text>n640</text></g>
<g id="n579" transform="translate(202,691)"><circle r="12"/><text>n579</text></g>
<g id="n32" transform="translate(282,691)"><circle r="12"/><text>n32</text></g>
<g id="n368" transform="translate(72,698)"><circle r="12"/><text>n368</text></g>
<g id="n721" transform="translate(23,704)"><circle r="12"/><text>n721</text></g>
<g id="n81" transform="translate(352,704)"><circle r="12"/><text>n81</text></g>
<g id="n254" transform="translate(112,711)"><circle r="12"/><text>n254</text></g>
<g id="n359" transform="translate(178,717)"><circle r="12"/><text>n359</text></g>
<g id="n85" transform="translate(269,725)"><circle r="12"/><text>n85</text></g>
<g id="n141" transform="translate(217,730)"><circle r="12"/><text>n141</text></g>
<g id="n438" transform="translate(64,730)"><circle r="12"/><text>n438</text></g>
<g id="n122" transform="translate(104,743)"><circle r="12"/><text>n122</text></g>
<g id="n278" transform="translate(154,750)"><circle r="12"/><text>n278</text></g>
<g id="n205" transform="translate(47,763)"><circle r="12"/><text>n205</text></g>
<g id="n153" transform="translate(209,762)"><circle r="12"/><text>n153</text></g>
<g id="n319" transform="translate(252,764)"><circle r="12"/><text>n319</text></g>
<g id="n379" transform="translate(322,764)"><circle r="12"/><text>n379</text></g>
<g id="n89" transform="translate(378,776)"><circle r="12"/><text>n89</text></g>
<g id="n318" transform="translate(88,776)"><circle r="12"/><text>n318</text></g>
<g id="n193" transform="translate(128,776)"><circle r="12"/><text>n193</text></g>
<g id="n300" transform="translate(228,793)"><circle r="12"/><text>n300</text></g>
<g id="n271" transform="translate(494,402)"><circle r="12"/><text>n271</text></g>
<g id="n527" transform="translate(562,401)"><circle r="12"/><text>n527</text></g>
<g id="n14" transform="translate(672,410)"><circle r="12"/><text>n14</text></g>
<g id="n262" transform="translate(631,413)"><circle r="12"/><text>n262</text></g>
<g id="n397" transform="translate(722,422)"><circle r="12"/><text>n397</text></g>
<g id="n393" transform="translate(770,420)"><circle r="12"/><text>n393</text></g>
<g id="n664" transform="translate(590,427)"><circle r="12"/><text>n664</text></g>
<g id="n303" transform="translate(542,432)"><circle r="12"/><text>n303</text></g>
<g id="n543" transform="translate(417,443)"><circle r="12"/><text>n543</text></g>
<g id="n621" transform="translate(471,448)"><circle r="12"/><text>n621</text></g>
<g id="n767" transform="translate(652,447)"><circle r="12"/><text>n767</text></g>
<g id="n597" transform="translate(695,449)"><circle r="12"/><text>n597</text></g>
<g id="n587" transform="translate(518,458)"><circle r="12"/><text>n587</text></g>
<g id="n624" transform="translate(610,452)"><circle r="12"/><text>n624</text></g>
<g id="n217" transform="translate(738,466)"><circle r="12"/><text>n217</text></g>
<g id="n80" transform="translate(564,473)"><circle r="12"/><text>n80</text></g>
<g id="n694" transform="translate(657,479)"><circle r="12"/><text>n694</text></g>
<g id="n583" transform="translate(611,484)"><circle r="12"/><text>n583</text></g>
<g id="n351" transform="translate(702,480)"><circle r="12"/><text>n351</text></g>
<g id="n705" transform="translate(416,491)"><circle r="12"/><text>n705</text></g>
<g id="n277" transform="translate(463,504)"><circle r="12"/><text>n277</text></g>
<g id="n442" transform="translate(514,495)"><circle r="12"/><text>n442</text></g>
<g id="n349" transform="translate(626,510)"><circle r="12"/><text>n349</text></g>
<g id="n86" transform="translate(679,506)"><circle r="12"/><text>n86</text></g>
<g id="n83" transform="translate(732,505)"><circle r="12"/><text>n83</text></g>
<g id="n159" transform="translate(564,514)"><circle r="12"/><text>n159</text></g>
<g id="n105" transform="translate(655,533)"><circle r="12"/><text>n105</text></g>
<g id="n557" transform="translate(700,532)"><circle r="12"/><text>n557</text></g>
<g id="n55" transform="translate(742,542)"><circle r="12"/><text>n55</text></g>
<g id="n759" transform="translate(416,534)"><circle r="12"/><text>n759</text></g>
<g id="n573" transform="translate(505,536)"><circle r="12"/><text>n573</text></g>
<g id="n460" transform="translate(602,539)"><circle r="12"/><text>n460</text></g>
<g id="n136" transform="translate(553,552)"><circle r="12"/><text>n136</text></g>
<g id="n507" transform="translate(448,561)"><circle r="12"/><text>n507</text></g>
<g id="n511" transform="translate(630,564)"><circle r="12"/><text>n511</text></g>
<g id="n608" transform="translate(669,563)"><circle r="12"/><text>n608</text></g>
<g id="n73" transform="translate(712,563)"><circle r="12"/><text>n73</text></g>
<g id="n711" transform="translate(492,577)"><circle r="12"/><text>n711</text></g>
<g id="n504" transform="translate(529,583)"><circle r="12"/><text>n504</text></g>
<g id="n699" transform="translate(588,575)"><circle r="12"/><text>n699</text></g>
<g id="n456" transform="translate(757,575)"><circle r="12"/><text>n456</text></g>
<g id="n181" transform="translate(628,594)"><circle r="12"/><text>n181</text></g>
<g id="n688" transform="translate(694,587)"><circle r="12"/><text>n688</text></g>
<g id="n441" transform="translate(665,600)"><circle r="12"/><text>n441</text></g>
<g id="n204" transform="translate(733,599)"><circle r="12"/><text>n204</text></g>
<g id="n565" transform="translate(561,601)"><circle r="12"/><text>n565</text></g>
<g id="n726" transform="translate(451,606)"><circle r="12"/><text>n726</text></g>
<g id="n18" transform="translate(602,612)"><circle r="12"/><text>n18</text></g>
<g id="n411" transform="translate(646,624)"><circle r="12"/><text>n411</text></g>
<g id="n692" transform="translate(702,622)"><circle r="12"/><text>n692</text></g>
<g id="p28" class="p" transform="translate(516,622)"><circle r="12"/><text>p28</text></g>
<g id="n481" transform="translate(567,630)"><circle r="12"/><text>n481</text></g>
<g id="n132" transform="translate(755,635)"><circle r="12"/><text>n132</text></g>
<g id="n616" transform="translate(470,642)"><circle r="12"/><text>n616</text></g>
<g id="n404" transform="translate(604,645)"><circle r="12"/><text>n404</text></g>
<g id="n38" transform="translate(643,652)"><circle r="12"/><text>n38</text></g>
<g id="n469" transform="translate(679,649)"><circle r="12"/><text>n469</text></g>
<g id="n668" transform="translate(720,657)"><circle r="12"/><text>n668</text></g>
<g id="n227" transform="translate(410,657)"><circle r="12"/><text>n227</text></g>
<g id="n281" transform="translate(549,655)"><circle r="12"/><text>n281</text></g>
<g id="n735" transform="translate(501,667)"><circle r="12"/><text>n735</text></g>
<g id="n356" transform="translate(624,673)"><circle r="12"/><text>n356</text></g>
<g id="n112" transform="translate(770,679)"><circle r="12"/><text>n112</text></g>
<g id="n409" transform="translate(584,679)"><circle r="12"/><text>n409</text></g>
<g id="n220" transform="translate(533,687)"><circle r="12"/><text>n220</text></g>
<g id="n471" transform="translate(672,685)"><circle r="12"/><text>n471</text></g>
<g id="n90" transform="translate(722,694)"><circle r="12"/><text>n90</text></g>
<g id="n451" transform="translate(441,692)"><circle r="12"/><text>n451</text></g>
<g id="n459" transform="translate(629,702)"><circle r="12"/><text>n459</text></g>
<g id="n560" transform="translate(486,712)"><circle r="12"/><text>n560</text></g>
<g id="n563" transform="translate(554,710)"><circle r="12"/><text>n563</text></g>
<g id="n410" transform="translate(396,736)"><circle r="12"/><text>n410</text></g>
<g id="n245" transform="translate(671,722)"><circle r="12"/><text>n245</text></g>
<g id="n503" transform="translate(728,728)"><circle r="12"/><text>n503</text></g>
<g id="n152" transform="translate(601,721)"><circle r="12"/><text>n152</text></g>
<g id="n84" transform="translate(446,751)"><circle r="12"/><text>n84</text></g>
<g id="n41" transform="translate(508,743)"><circle r="12"/><text>n41</text></g>
<g id="n231" transform="translate(558,740)"><circle r="12"/><text>n231</text></g>
<g id="n164" transform="translate(648,752)"><circle r="12"/><text>n164</text></g>
<g id="n433" transform="translate(598,759)"><circle r="12"/><text>n433</text></g>
<g id="n545" transform="translate(710,769)"><circle r="12"/><text>n545</text></g>
<g id="n517" transform="translate(492,779)"><circle r="12"/><text>n517</text></g>
<g id="n187" transform="translate(551,776)"><circle r="12"/><text>n187</text></g>
<g id="n104" transform="translate(628,787)"><circle r="12"/><text>n104</text></g>
<g id="p29" class="p" transform="translate(429,793)"><circle r="12"/><text>p29</text></g>
<g id="n369" transform="translate(837,410)"><circle r="12"/><text>n369</text></g>
<g id="n67" transform="translate(874,412)"><circle r="12"/><text>n67</text></g>
<g id="n196" transform="translate(922,413)"><circle r="12"/><text>n196</text></g>
<g id="n57" transform="translate(1012,405)"><circle r="12"/><text>n57</text></g>
<g id="n268" transform="translate(1056,409)"><circle r="12"/><text>n268</text></g>
<g id="n283" transform="translate(1149,416)"><circle r="12"/><text>n283</text></g>
<g id="n400" transform="translate(777,452)"><circle r="12"/><text>n400</text></g>
<g id="n273" transform="translate(823,457)"><circle r="12"/><text>n273</text></g>
<g id="n160" transform="translate(896,463)"><circle r="12"/><text>n160</text></g>
<g id="n634" transform="translate(1007,447)"><circle r="12"/><text>n634</text></g>
<g id="n484" transform="translate(1070,444)"><circle r="12"/><text>n484</text></g>
<g id="n66" transform="translate(1060,477)"><circle r="12"/><text>n66</text></g>
<g id="n352" transform="translate(781,489)"><circle r="12"/><text>n352</text></g>
<g id="n29" transform="translate(857,499)"><circle r="12"/><text>n29</text></g>
<g id="n576" transform="translate(939,491)"><circle r="12"/><text>n576</text></g>
<g id="n590" transform="translate(980,484)"><circle r="12"/><text>n590</text></g>
<g id="n643" transform="translate(1021,487)"><circle r="12"/><text>n643</text></g>
<g id="n103" transform="translate(1150,496)"><circle r="12"/><text>n103</text></g>
<g id="n622" transform="translate(817,514)"><circle r="12"/><text>n622</text></g>
<g id="n316" transform="translate(771,521)"><circle r="12"/><text>n316</text></g>
<g id="n331" transform="translate(912,521)"><circle r="12"/><text>n331</text></g>
<g id="n673" transform="translate(1070,512)"><circle r="12"/><text>n673</text></g>
<g id="n661" transform="translate(1167,529)"><circle r="12"/><text>n661</text></g>
<g id="n185" transform="translate(977,527)"><circle r="12"/><text>n185</text></g>
<g id="p51" class="p" transform="translate(1020,529)"><circle r="12"/><text>p51</text></g>
<g id="n592" transform="translate(793,549)"><circle r="12"/><text>n592</text></g>
<g id="n209" transform="translate(854,553)"><circle r="12"/><text>n209</text></g>
<g id="n64" transform="translate(898,561)"><circle r="12"/><text>n64</text></g>
<g id="n552" transform="translate(1062,562)"><circle r="12"/><text>n552</text></g>
<g id="n387" transform="translate(807,579)"><circle r="12"/><text>n387</text></g>
<g id="n151" transform="translate(912,591)"><circle r="12"/><text>n151</text></g>
<g id="n492" transform="translate(995,595)"><circle r="12"/><text>n492</text></g>
<g id="p35" class="p" transform="translate(1036,587)"><circle r="12"/><text>p35</text></g>
<g id="n98" transform="translate(1125,587)"><circle r="12"/><text>n98</text></g>
<g id="n52" transform="translate(787,612)"><circle r="12"/><text>n52</text></g>
<g id="n422" transform="translate(848,607)"><circle r="12"/><text>n422</text></g>
<g id="n134" transform="translate(1086,611)"><circle r="12"/><text>n134</text></g>
<g id="n97" transform="translate(1125,620)"><circle r="12"/><text>n97</text></g>
<g id="n53" transform="translate(1036,626)"><circle r="12"/><text>n53</text></g>
<g id="p53" class="p" transform="translate(963,633)"><circle r="12"/><text>p53</text></g>
<g id="n600" transform="translate(1105,650)"><circle r="12"/><text>n600</text></g>
<g id="p44" class="p" transform="translate(813,654)"><circle r="12"/><text>p44</text></g>
<g id="n197" transform="translate(871,658)"><circle r="12"/><text>n197</text></g>
<g id="n92" transform="translate(947,665)"><circle r="12"/><text>n92</text></g>
<g id="n39" transform="translate(1085,678)"><circle r="12"/><text>n39</text></g>
<g id="n766" transform="translate(1127,678)"><circle r="12"/><text>n766</text></g>
<g id="n58" transform="translate(987,685)"><circle r="12"/><text>n58</text></g>
<g id="n168" transform="translate(1043,686)"><circle r="12"/><text>n168</text></g>
<g id="n60" transform="translate(850,698)"><circle r="12"/><text>n60</text></g>
<g id="n667" transform="translate(939,703)"><circle r="12"/><text>n667</text></g>
<g id="n91" transform="translate(1101,711)"><circle r="12"/><text>n91</text></g>
<g id="n723" transform="translate(810,718)"><circle r="12"/><text>n723</text></g>
<g id="n177" transform="translate(895,717)"><circle r="12"/><text>n177</text></g>
<g id="n769" transform="translate(952,735)"><circle r="12"/><text>n769</text></g>
<g id="n54" transform="translate(1011,730)"><circle r="12"/><text>n54</text></g>
<g id="n506" transform="translate(781,763)"><circle r="12"/><text>n506</text></g>
<g id="n59" transform="translate(816,763)"><circle r="12"/><text>n59</text></g>
<g id="n247" transform="translate(886,776)"><circle r="12"/><text>n247</text></g>
<g id="n684" transform="translate(958,768)"><circle r="12"/><text>n684</text></g>
<g id="n567" transform="translate(1006,768)"><circle r="12"/><text>n567</text></g>
<g id="n727" transform="translate(1043,782)"><circle r="12"/><text>n727</text></g>
<g id="n194" transform="translate(1145,764)"><circle r="12"/><text>n194</text></g>
<g id="n524" transform="translate(1255,416)"><circle r="12"/><text>n524</text></g>
<g id="n588" transform="translate(1299,422)"><circle r="12"/><text>n588</text></g>
<g id="n302" transform="translate(1342,404)"><circle r="12"/><text>n302</text></g>
<g id="n299" transform="translate(1385,412)"><circle r="12"/><text>n299</text></g>
<g id="n535" transform="translate(1425,412)"><circle r="12"/><text>n535</text></g>
<g id="n502" transform="translate(1202,426)"><circle r="12"/><text>n502</text></g>
<g id="n496" transform="translate(1254,442)"><circle r="12"/><text>n496</text></g>
<g id="n4" transform="translate(1368,444)"><circle r="12"/><text>n4</text></g>
<g id="n385" transform="translate(1409,444)"><circle r="12"/><text>n385</text></g>
<g id="n672" transform="translate(1449,444)"><circle r="12"/><text>n672</text></g>
<g id="n432" transform="translate(1207,465)"><circle r="12"/><text>n432</text></g>
<g id="n237" transform="translate(1284,461)"><circle r="12"/><text>n237</text></g>
<g id="n425" transform="translate(1328,470)"><circle r="12"/><text>n425</text></g>
<g id="n113" transform="translate(1377,477)"><circle r="12"/><text>n113</text></g>
<g id="n219" transform="translate(1417,477)"><circle r="12"/><text>n219</text></g>
<g id="n2" transform="translate(1295,503)"><circle r="12"/><text>n2</text></g>
<g id="n79" transform="translate(1352,503)"><circle r="12"/><text>n79</text></g>
<g id="n476" transform="translate(1417,509)"><circle r="12"/><text>n476</text></g>
<g id="p45" class="p" transform="translate(1255,516)"><circle r="12"/><text>p45</text></g>
<g id="n130" transform="translate(1214,532)"><circle r="12"/><text>n130</text></g>
<g id="n35" transform="translate(1332,537)"><circle r="12"/><text>n35</text></g>
<g id="n647" transform="translate(1434,543)"><circle r="12"/><text>n647</text></g>
<g id="n263" transform="translate(1376,555)"><circle r="12"/><text>n263</text></g>
<g id="n40" transform="translate(1190,574)"><circle r="12"/><text>n40</text></g>
<g id="n361" transform="translate(1231,568)"><circle r="12"/><text>n361</text></g>
<g id="n486" transform="translate(1273,572)"><circle r="12"/><text>n486</text></g>
<g id="n516" transform="translate(1316,591)"><circle r="12"/><text>n516</text></g>
<g id="n266" transform="translate(1366,589)"><circle r="12"/><text>n266</text></g>
<g id="n334" transform="translate(1199,605)"><circle r="12"/><text>n334</text></g>
<g id="n308" transform="translate(1425,605)"><circle r="12"/><text>n308</text></g>
<g id="n510" transform="translate(1310,630)"><circle r="12"/><text>n510</text></g>
<g id="n568" transform="translate(1170,645)"><circle r="12"/><text>n568</text></g>
<g id="n467" transform="translate(1391,645)"><circle r="12"/><text>n467</text></g>
<g id="p48" class="p" transform="translate(1224,659)"><circle r="12"/><text>p48</text></g>
<g id="n212" transform="translate(1267,662)"><circle r="12"/><text>n212</text></g>
<g id="p47" class="p" transform="translate(1198,684)"><circle r="12"/><text>p47</text></g>
<g id="n155" transform="translate(1401,691)"><circle r="12"/><text>n155</text></g>
<g id="p50" class="p" transform="translate(1247,710)"><circle r="12"/><text>p50</text></g>
<g id="n691" transform="translate(1300,710)"><circle r="12"/><text>n691</text></g>
<g id="n644" transform="translate(1158,714)"><circle r="12"/><text>n644</text></g>
<g id="n609" transform="translate(1207,720)"><circle r="12"/><text>n609</text></g>
<g id="n521" transform="translate(1375,729)"><circle r="12"/><text>n521</text></g>
<g id="n715" transform="translate(1445,724)"><circle r="12"/><text>n715</text></g>
<g id="n137" transform="translate(1286,750)"><circle r="12"/><text>n137</text></g>
<g id="n394" transform="translate(1370,769)"><circle r="12"/><text>n394</text></g>
<g id="p39" class="p" transform="translate(1409,781)"><circle r="12"/><text>p39</text></g>
<g id="n669" transform="translate(1449,769)"><circle r="12"/><text>n669</text></g>
<g id="n612" transform="translate(1230,782)"><circle r="12"/><text>n612</text></g>
<g id="n639" transform="translate(31,795)"><circle r="12"/><text>n639</text></g>
<g id="p12" class="p" transform="translate(72,808)"><circle r="12"/><text>p12</text></g>
<g id="n37" transform="translate(112,808)"><circle r="12"/><text>n37</text></g>
<g id="n274" transform="translate(178,802)"><circle r="12"/><text>n274</text></g>
<g id="n75" transform="translate(315,802)"><circle r="12"/><text>n75</text></g>
<g id="n635" transform="translate(359,809)"><circle r="12"/><text>n635</text></g>
<g id="n403" transform="translate(273,820)"><circle r="12"/><text>n403</text></g>
<g id="n641" transform="translate(31,828)"><circle r="12"/><text>n641</text></g>
<g id="n372" transform="translate(72,841)"><circle r="12"/><text>n372</text></g>
<g id="n107" transform="translate(112,841)"><circle r="12"/><text>n107</text></g>
<g id="n154" transform="translate(153,828)"><circle r="12"/><text>n154</text></g>
<g id="n150" transform="translate(226,827)"><circle r="12"/><text>n150</text></g>
<g id="n642" transform="translate(31,860)"><circle r="12"/><text>n642</text></g>
<g id="n373" transform="translate(72,873)"><circle r="12"/><text>n373</text></g>
<g id="n6" transform="translate(112,873)"><circle r="12"/><text>n6</text></g>
<g id="n487" transform="translate(178,860)"><circle r="12"/><text>n487</text></g>
<g id="n171" transform="translate(226,860)"><circle r="12"/><text>n171</text></g>
<g id="n121" transform="translate(266,860)"><circle r="12"/><text>n121</text></g>
<g id="n111" transform="translate(306,860)"><circle r="12"/><text>n111</text></g>
<g id="n123" transform="translate(352,870)"><circle r="12"/><text>n123</text></g>
<g id="n722" transform="translate(23,893)"><circle r="12"/><text>n722</text></g>
<g id="n354" transform="translate(153,886)"><circle r="12"/><text>n354</text></g>
<g id="n167" transform="translate(277,896)"><circle r="12"/><text>n167</text></g>
<g id="p2" class="p" transform="translate(63,905)"><circle r="12"/><text>p2</text></g>
<g id="n241" transform="translate(104,905)"><circle r="12"/><text>n241</text></g>
<g id="p57" class="p" transform="translate(347,905)"><circle r="12"/><text>p57</text></g>
<g id="n479" transform="translate(154,919)"><circle r="12"/><text>n479</text></g>
<g id="n555" transform="translate(202,918)"><circle r="12"/><text>n555</text></g>
<g id="n575" transform="translate(47,938)"><circle r="12"/><text>n575</text></g>
<g id="n322" transform="translate(88,938)"><circle r="12"/><text>n322</text></g>
<g id="n446" transform="translate(128,945)"><circle r="12"/><text>n446</text></g>
<g id="n586" transform="translate(235,942)"><circle r="12"/><text>n586</text></g>
<g id="n662" transform="translate(277,931)"><circle r="12"/><text>n662</text></g>
<g id="n246" transform="translate(340,943)"><circle r="12"/><text>n246</text></g>
<g id="n515" transform="translate(178,958)"><circle r="12"/><text>n515</text></g>
<g id="n646" transform="translate(31,971)"><circle r="12"/><text>n646</text></g>
<g id="n375" transform="translate(72,971)"><circle r="12"/><text>n375</text></g>
<g id="n206" transform="translate(112,977)"><circle r="12"/><text>n206</text></g>
<g id="n365" transform="translate(153,984)"><circle r="12"/><text>n365</text></g>
<g id="n243" transform="translate(226,977)"><circle r="12"/><text>n243</text></g>
<g id="n256" transform="translate(273,981)"><circle r="12"/><text>n256</text></g>
<g id="n512" transform="translate(56,1003)"><circle r="12"/><text>n512</text></g>
<g id="n282" transform="translate(96,1010)"><circle r="12"/><text>n282</text></g>
<g id="n645" transform="translate(146,1016)"><circle r="12"/><text>n645</text></g>
<g id="n706" transform="translate(211,1010)"><circle r="12"/><text>n706</text></g>
<g id="n131" transform="translate(357,1011)"><circle r="12"/><text>n131</text></g>
<g id="n580" transform="translate(259,1023)"><circle r="12"/><text>n580</text></g>
<g id="n142" transform="translate(299,1023)"><circle r="12"/><text>n142</text></g>
<g id="n605" transform="translate(39,1036)"><circle r="12"/><text>n605</text></g>
<g id="n338" transform="translate(80,1042)"><circle r="12"/><text>n338</text></g>
<g id="n514" transform="translate(120,1042)"><circle r="12"/><text>n514</text></g>
<g id="n450" transform="translate(185,1036)"><circle r="12"/><text>n450</text></g>
<g id="n509" transform="translate(234,1049)"><circle r="12"/><text>n509</text></g>
<g id="n25" transform="translate(339,1049)"><circle r="12"/><text>n25</text></g>
<g id="n544" transform="translate(289,1065)"><circle r="12"/><text>n544</text></g>
<g id="n728" transform="translate(23,1068)"><circle r="12"/><text>n728</text></g>
<g id="n445" transform="translate(64,1075)"><circle r="12"/><text>n445</text></g>
<g id="n242" transform="translate(104,1075)"><circle r="12"/><text>n242</text></g>
<g id="n628" transform="translate(170,1068)"><circle r="12"/><text>n628</text></g>
<g id="n178" transform="translate(209,1081)"><circle r="12"/><text>n178</text></g>
<g id="n61" transform="translate(145,1094)"><circle r="12"/><text>n61</text></g>
<g id="n182" transform="translate(331,1088)"><circle r="12"/><text>n182</text></g>
<g id="p32" class="p" transform="translate(250,1101)"><circle r="12"/><text>p32</text></g>
<g id="p31" class="p" transform="translate(290,1101)"><circle r="12"/><text>p31</text></g>
<g id="p30" class="p" transform="translate(372,1107)"><circle r="12"/><text>p30</text></g>
<g id="n513" transform="translate(56,1107)"><circle r="12"/><text>n513</text></g>
<g id="n284" transform="translate(96,1107)"><circle r="12"/><text>n284</text></g>
<g id="n323" transform="translate(185,1114)"><circle r="12"/><text>n323</text></g>
<g id="n376" transform="translate(137,1127)"><circle r="12"/><text>n376</text></g>
<g id="n340" transform="translate(331,1120)"><circle r="12"/><text>n340</text></g>
<g id="n5" transform="translate(226,1133)"><circle r="12"/><text>n5</text></g>
<g id="n447" transform="translate(266,1133)"><circle r="12"/><text>n447</text></g>
<g id="n523" transform="translate(372,1139)"><circle r="12"/><text>n523</text></g>
<g id="n201" transform="translate(56,1140)"><circle r="12"/><text>n201</text></g>
<g id="n520" transform="translate(96,1140)"><circle r="12"/><text>n520</text></g>
<g id="n207" transform="translate(177,1146)"><circle r="12"/><text>n207</text></g>
<g id="n606" transform="translate(307,1152)"><circle r="12"/><text>n606</text></g>
<g id="n648" transform="translate(137,1159)"><circle r="12"/><text>n648</text></g>
<g id="n729" transform="translate(218,1166)"><circle r="12"/><text>n729</text></g>
<g id="n732" transform="translate(258,1166)"><circle r="12"/><text>n732</text></g>
<g id="n69" transform="translate(522,809)"><circle r="12"/><text>n69</text></g>
<g id="n518" transform="translate(585,805)"><circle r="12"/><text>n518</text></g>
<g id="n208" transform="translate(682,799)"><circle r="12"/><text>n208</text></g>
<g id="n564" transform="translate(478,824)"><circle r="12"/><text>n564</text></g>
<g id="n444" transform="translate(561,830)"><circle r="12"/><text>n444</text></g>
<g id="n671" transform="translate(418,835)"><circle r="12"/><text>n671</text></g>
<g id="n27" transform="translate(639,823)"><circle r="12"/><text>n27</text></g>
<g id="n731" transform="translate(741,829)"><circle r="12"/><text>n731</text></g>
<g id="n22" transform="translate(684,844)"><circle r="12"/><text>n22</text></g>
<g id="n306" transform="translate(614,846)"><circle r="12"/><text>n306</text></g>
<g id="n413" transform="translate(533,850)"><circle r="12"/><text>n413</text></g>
<g id="n285" transform="translate(492,858)"><circle r="12"/><text>n285</text></g>
<g id="n747" transform="translate(585,863)"><circle r="12"/><text>n747</text></g>
<g id="n417" transform="translate(456,867)"><circle r="12"/><text>n417</text></g>
<g id="n696" transform="translate(517,876)"><circle r="12"/><text>n696</text></g>
<g id="n20" transform="translate(415,880)"><circle r="12"/><text>n20</text></g>
<g id="n614" transform="translate(658,879)"><circle r="12"/><text>n614</text></g>
<g id="n455" transform="translate(562,885)"><circle r="12"/><text>n455</text></g>
<g id="n335" transform="translate(734,883)"><circle r="12"/><text>n335</text></g>
<g id="n660" transform="translate(488,899)"><circle r="12"/><text>n660</text></g>
<g id="n298" transform="translate(535,900)"><circle r="12"/><text>n298</text></g>
<g id="n463" transform="translate(604,900)"><circle r="12"/><text>n463</text></g>
<g id="n420" transform="translate(449,915)"><circle r="12"/><text>n420</text></g>
<g id="n321" transform="translate(397,925)"><circle r="12"/><text>n321</text></g>
<g id="n426" transform="translate(515,926)"><circle r="12"/><text>n426</text></g>
<g id="n388" transform="translate(564,932)"><circle r="12"/><text>n388</text></g>
<g id="n363" transform="translate(645,926)"><circle r="12"/><text>n363</text></g>
<g id="p56" class="p" transform="translate(705,931)"><circle r="12"/><text>p56</text></g>
<g id="p65" class="p" transform="translate(470,951)"><circle r="12"/><text>p65</text></g>
<g id="n1" transform="translate(515,965)"><circle r="12"/><text>n1</text></g>
<g id="n36" transform="translate(607,961)"><circle r="12"/><text>n36</text></g>
<g id="n679" transform="translate(424,981)"><circle r="12"/><text>n679</text></g>
<g id="n235" transform="translate(687,988)"><circle r="12"/><text>n235</text></g>
<g id="n198" transform="translate(550,998)"><circle r="12"/><text>n198</text></g>
<g id="n301" transform="translate(754,997)"><circle r="12"/><text>n301</text></g>
<g id="n577" transform="translate(609,1020)"><circle r="12"/><text>n577</text></g>
<g id="n343" transform="translate(484,1019)"><circle r="12"/><text>n343</text></g>
<g id="n100" transform="translate(648,1029)"><circle r="12"/><text>n100</text></g>
<g id="n158" transform="translate(728,1023)"><circle r="12"/><text>n158</text></g>
<g id="n145" transform="translate(558,1036)"><circle r="12"/><text>n145</text></g>
<g id="p41" class="p" transform="translate(639,1062)"><circle r="12"/><text>p41</text></g>
<g id="n636" transform="translate(707,1062)"><circle r="12"/><text>n636</text></g>
<g id="n13" transform="translate(752,1062)"><circle r="12"/><text>n13</text></g>
<g id="n610" transform="translate(403,1068)"><circle r="12"/><text>n610</text></g>
<g id="n591" transform="translate(500,1074)"><circle r="12"/><text>n591</text></g>
<g id="n501" transform="translate(597,1075)"><circle r="12"/><text>n501</text></g>
<g id="n108" transform="translate(445,1094)"><circle r="12"/><text>n108</text></g>
<g id="n210" transform="translate(542,1094)"><circle r="12"/><text>n210</text></g>
<g id="n115" transform="translate(639,1094)"><circle r="12"/><text>n115</text></g>
<g id="p40" class="p" transform="translate(744,1094)"><circle r="12"/><text>p40</text></g>
<g id="n250" transform="translate(680,1101)"><circle r="12"/><text>n250</text></g>
<g id="n288" transform="translate(486,1107)"><circle r="12"/><text>n288</text></g>
<g id="p17" class="p" transform="translate(583,1106)"><circle r="12"/><text>p17</text></g>
<g id="n377" transform="translate(412,1127)"><circle r="12"/><text>n377</text></g>
<g id="p10" class="p" transform="translate(526,1126)"><circle r="12"/><text>p10</text></g>
<g id="n380" transform="translate(623,1127)"><circle r="12"/><text>n380</text></g>
<g id="p38" class="p" transform="translate(663,1132)"><circle r="12"/><text>p38</text></g>
<g id="n341" transform="translate(736,1127)"><circle r="12"/><text>n341</text></g>
<g id="n525" transform="translate(453,1140)"><circle r="12"/><text>n525</text></g>
<g id="n526" transform="translate(566,1140)"><circle r="12"/><text>n526</text></g>
<g id="n650" transform="translate(412,1159)"><circle r="12"/><text>n650</text></g>
<g id="n651" transform="translate(493,1159)"><circle r="12"/><text>n651</text></g>
<g id="n272" transform="translate(607,1159)"><circle r="12"/><text>n272</text></g>
<g id="n287" transform="translate(647,1166)"><circle r="12"/><text>n287</text></g>
<g id="n739" transform="translate(688,1166)"><circle r="12"/><text>n739</text></g>
<g id="n607" transform="translate(736,1159)"><circle r="12"/><text>n607</text></g>
<g id="n485" transform="translate(806,811)"><circle r="12"/><text>n485</text></g>
<g id="n370" transform="translate(953,802)"><circle r="12"/><text>n370</text></g>
<g id="n465" transform="translate(1005,808)"><circle r="12"/><text>n465</text></g>
<g id="n558" transform="translate(1059,815)"><circle r="12"/><text>n558</text></g>
<g id="p33" class="p" transform="translate(979,834)"><circle r="12"/><text>p33</text></g>
<g id="n76" transform="translate(785,847)"><circle r="12"/><text>n76</text></g>
<g id="n65" transform="translate(825,847)"><circle r="12"/><text>n65</text></g>
<g id="n135" transform="translate(909,845)"><circle r="12"/><text>n135</text></g>
<g id="n738" transform="translate(1084,841)"><circle r="12"/><text>n738</text></g>
<g id="n68" transform="translate(1069,873)"><circle r="12"/><text>n68</text></g>
<g id="n593" transform="translate(1024,878)"><circle r="12"/><text>n593</text></g>
<g id="n215" transform="translate(822,879)"><circle r="12"/><text>n215</text></g>
<g id="p21" class="p" transform="translate(881,892)"><circle r="12"/><text>p21</text></g>
<g id="n244" transform="translate(923,887)"><circle r="12"/><text>n244</text></g>
<g id="n342" transform="translate(965,890)"><circle r="12"/><text>n342</text></g>
<g id="n165" transform="translate(1146,898)"><circle r="12"/><text>n165</text></g>
<g id="n96" transform="translate(778,906)"><circle r="12"/><text>n96</text></g>
<g id="n401" transform="translate(1036,918)"><circle r="12"/><text>n401</text></g>
<g id="n371" transform="translate(1076,908)"><circle r="12"/><text>n371</text></g>
<g id="n655" transform="translate(825,926)"><circle r="12"/><text>n655</text></g>
<g id="n724" transform="translate(786,938)"><circle r="12"/><text>n724</text></g>
<g id="n213" transform="translate(971,935)"><circle r="12"/><text>n213</text></g>
<g id="n355" transform="translate(915,944)"><circle r="12"/><text>n355</text></g>
<g id="n214" transform="translate(1014,949)"><circle r="12"/><text>n214</text></g>
<g id="n528" transform="translate(1061,943)"><circle r="12"/><text>n528</text></g>
<g id="n70" transform="translate(839,958)"><circle r="12"/><text>n70</text></g>
<g id="n770" transform="translate(1097,963)"><circle r="12"/><text>n770</text></g>
<g id="n685" transform="translate(1150,977)"><circle r="12"/><text>n685</text></g>
<g id="n88" transform="translate(954,977)"><circle r="12"/><text>n88</text></g>
<g id="n183" transform="translate(1000,984)"><circle r="12"/><text>n183</text></g>
<g id="n87" transform="translate(1052,984)"><circle r="12"/><text>n87</text></g>
<g id="n666" transform="translate(865,984)"><circle r="12"/><text>n666</text></g>
<g id="n332" transform="translate(804,999)"><circle r="12"/><text>n332</text></g>
<g id="n443" transform="translate(1126,1003)"><circle r="12"/><text>n443</text></g>
<g id="n175" transform="translate(778,1036)"><circle r="12"/><text>n175</text></g>
<g id="n143" transform="translate(850,1029)"><circle r="12"/><text>n143</text></g>
<g id="n329" transform="translate(908,1036)"><circle r="12"/><text>n329</text></g>
<g id="n216" transform="translate(983,1035)"><circle r="12"/><text>n216</text></g>
<g id="n408" transform="translate(1134,1033)"><circle r="12"/><text>n408</text></g>
<g id="n440" transform="translate(1038,1049)"><circle r="12"/><text>n440</text></g>
<g id="n146" transform="translate(882,1062)"><circle r="12"/><text>n146</text></g>
<g id="n439" transform="translate(1086,1061)"><circle r="12"/><text>n439</text></g>
<g id="p20" class="p" transform="translate(842,1065)"><circle r="12"/><text>p20</text></g>
<g id="n15" transform="translate(793,1075)"><circle r="12"/><text>n15</text></g>
<g id="n157" transform="translate(923,1075)"><circle r="12"/><text>n157</text></g>
<g id="n101" transform="translate(963,1075)"><circle r="12"/><text>n101</text></g>
<g id="n233" transform="translate(1012,1075)"><circle r="12"/><text>n233</text></g>
<g id="n184" transform="translate(882,1094)"><circle r="12"/><text>n184</text></g>
<g id="n384" transform="translate(1061,1088)"><circle r="12"/><text>n384</text></g>
<g id="n218" transform="translate(1101,1101)"><circle r="12"/><text>n218</text></g>
<g id="n292" transform="translate(1141,1114)"><circle r="12"/><text>n292</text></g>
<g id="n251" transform="translate(785,1107)"><circle r="12"/><text>n251</text></g>
<g id="n253" transform="translate(825,1107)"><circle r="12"/><text>n253</text></g>
<g id="n128" transform="translate(923,1107)"><circle r="12"/><text>n128</text></g>
<g id="n255" transform="translate(963,1107)"><circle r="12"/><text>n255</text></g>
<g id="n257" transform="translate(1003,1107)"><circle r="12"/><text>n257</text></g>
<g id="n324" transform="translate(1044,1120)"><circle r="12"/><text>n324</text></g>
<g id="n344" transform="translate(866,1127)"><circle r="12"/><text>n344</text></g>
<g id="n382" transform="translate(1084,1133)"><circle r="12"/><text>n382</text></g>
<g id="n211" transform="translate(778,1140)"><circle r="12"/><text>n211</text></g>
<g id="n452" transform="translate(817,1140)"><circle r="12"/><text>n452</text></g>
<g id="n454" transform="translate(907,1140)"><circle r="12"/><text>n454</text></g>
<g id="n457" transform="translate(947,1140)"><circle r="12"/><text>n457</text></g>
<g id="n461" transform="translate(987,1140)"><circle r="12"/><text>n461</text></g>
<g id="n532" transform="translate(1125,1146)"><circle r="12"/><text>n532</text></g>
<g id="n578" transform="translate(1028,1153)"><circle r="12"/><text>n578</text></g>
<g id="n240" transform="translate(858,1159)"><circle r="12"/><text>n240</text></g>
<g id="n657" transform="translate(1069,1166)"><circle r="12"/><text>n657</text></g>
<g id="n741" transform="translate(778,1172)"><circle r="12"/><text>n741</text></g>
<g id="n745" transform="translate(817,1172)"><circle r="12"/><text>n745</text></g>
<g id="n746" transform="translate(898,1172)"><circle r="12"/><text>n746</text></g>
<g id="n749" transform="translate(939,1172)"><circle r="12"/><text>n749</text></g>
<g id="n750" transform="translate(979,1172)"><circle r="12"/><text>n750</text></g>
<g id="n72" transform="translate(1344,795)"><circle r="12"/><text>n72</text></g>
<g id="n665" transform="translate(1449,802)"><circle r="12"/><text>n665</text></g>
<g id="p42" class="p" transform="translate(1393,814)"><circle r="12"/><text>p42</text></g>
<g id="n522" transform="translate(1307,806)"><circle r="12"/><text>n522</text></g>
<g id="n553" transform="translate(1187,812)"><circle r="12"/><text>n553</text></g>
<g id="n654" transform="translate(1278,829)"><circle r="12"/><text>n654</text></g>
<g id="n203" transform="translate(1354,828)"><circle r="12"/><text>n203</text></g>
<g id="n585" transform="translate(1434,834)"><circle r="12"/><text>n585</text></g>
<g id="n414" transform="translate(1166,841)"><circle r="12"/><text>n414</text></g>
<g id="n670" transform="translate(1208,840)"><circle r="12"/><text>n670</text></g>
<g id="n327" transform="translate(1393,847)"><circle r="12"/><text>n327</text></g>
<g id="n116" transform="translate(1328,854)"><circle r="12"/><text>n116</text></g>
<g id="n703" transform="translate(1255,858)"><circle r="12"/><text>n703</text></g>
<g id="n221" transform="translate(1434,867)"><circle r="12"/><text>n221</text></g>
<g id="n423" transform="translate(1215,870)"><circle r="12"/><text>n423</text></g>
<g id="n768" transform="translate(1377,882)"><circle r="12"/><text>n768</text></g>
<g id="n381" transform="translate(1295,887)"><circle r="12"/><text>n381</text></g>
<g id="n508" transform="translate(1252,892)"><circle r="12"/><text>n508</text></g>
<g id="n419" transform="translate(1337,894)"><circle r="12"/><text>n419</text></g>
<g id="n289" transform="translate(1190,901)"><circle r="12"/><text>n289</text></g>
<g id="n475" transform="translate(1417,899)"><circle r="12"/><text>n475</text></g>
<g id="n765" transform="translate(1458,899)"><circle r="12"/><text>n765</text></g>
<g id="n260" transform="translate(1376,919)"><circle r="12"/><text>n260</text></g>
<g id="n148" transform="translate(1309,919)"><circle r="12"/><text>n148</text></g>
<g id="n464" transform="translate(1228,923)"><circle r="12"/><text>n464</text></g>
<g id="n472" transform="translate(1417,932)"><circle r="12"/><text>n472</text></g>
<g id="n763" transform="translate(1458,932)"><circle r="12"/><text>n763</text></g>
<g id="n468" transform="translate(1165,945)"><circle r="12"/><text>n468</text></g>
<g id="n760" transform="translate(1290,952)"><circle r="12"/><text>n760</text></g>
<g id="n364" transform="translate(1354,951)"><circle r="12"/><text>n364</text></g>
<g id="n730" transform="translate(1234,958)"><circle r="12"/><text>n730</text></g>
<g id="n3" transform="translate(1393,964)"><circle r="12"/><text>n3</text></g>
<g id="n582" transform="translate(1434,964)"><circle r="12"/><text>n582</text></g>
<g id="n330" transform="translate(1328,977)"><circle r="12"/><text>n330</text></g>
<g id="n753" transform="translate(1276,987)"><circle r="12"/><text>n753</text></g>
<g id="n189" transform="translate(1190,991)"><circle r="12"/><text>n189</text></g>
<g id="n751" transform="translate(1233,998)"><circle r="12"/><text>n751</text></g>
<g id="n598" transform="translate(1377,997)"><circle r="12"/><text>n598</text></g>
<g id="n470" transform="translate(1417,997)"><circle r="12"/><text>n470</text></g>
<g id="n761" transform="translate(1458,997)"><circle r="12"/><text>n761</text></g>
<g id="n505" transform="translate(1312,1009)"><circle r="12"/><text>n505</text></g>
<g id="n56" transform="translate(1202,1023)"><circle r="12"/><text>n56</text></g>
<g id="n488" transform="translate(1352,1023)"><circle r="12"/><text>n488</text></g>
<g id="n466" transform="translate(1417,1029)"><circle r="12"/><text>n466</text></g>
<g id="n757" transform="translate(1458,1029)"><circle r="12"/><text>n757</text></g>
<g id="n478" transform="translate(1256,1036)"><circle r="12"/><text>n478</text></g>
<g id="n656" transform="translate(1305,1049)"><circle r="12"/><text>n656</text></g>
<g id="n489" transform="translate(1183,1055)"><circle r="12"/><text>n489</text></g>
<g id="n743" transform="translate(1370,1055)"><circle r="12"/><text>n743</text></g>
<g id="n16" transform="translate(1231,1062)"><circle r="12"/><text>n16</text></g>
<g id="n383" transform="translate(1409,1062)"><circle r="12"/><text>n383</text></g>
<g id="n663" transform="translate(1449,1062)"><circle r="12"/><text>n663</text></g>
<g id="n225" transform="translate(1279,1075)"><circle r="12"/><text>n225</text></g>
<g id="n736" transform="translate(1344,1081)"><circle r="12"/><text>n736</text></g>
<g id="n129" transform="translate(1158,1081)"><circle r="12"/><text>n129</text></g>
<g id="n186" transform="translate(1198,1094)"><circle r="12"/><text>n186</text></g>
<g id="n191" transform="translate(1239,1094)"><circle r="12"/><text>n191</text></g>
<g id="n350" transform="translate(1401,1094)"><circle r="12"/><text>n350</text></g>
<g id="n625" transform="translate(1441,1094)"><circle r="12"/><text>n625</text></g>
<g id="n259" transform="translate(1279,1107)"><circle r="12"/><text>n259</text></g>
<g id="n294" transform="translate(1320,1114)"><circle r="12"/><text>n294</text></g>
<g id="n296" transform="translate(1360,1114)"><circle r="12"/><text>n296</text></g>
<g id="p16" class="p" transform="translate(1182,1126)"><circle r="12"/><text>p16</text></g>
<g id="n347" transform="translate(1223,1127)"><circle r="12"/><text>n347</text></g>
<g id="n348" transform="translate(1401,1127)"><circle r="12"/><text>n348</text></g>
<g id="n623" transform="translate(1441,1127)"><circle r="12"/><text>n623</text></g>
<g id="n462" transform="translate(1263,1140)"><circle r="12"/><text>n462</text></g>
<g id="n533" transform="translate(1303,1146)"><circle r="12"/><text>n533</text></g>
<g id="n534" transform="translate(1344,1146)"><circle r="12"/><text>n534</text></g>
<g id="n615" transform="translate(1166,1159)"><circle r="12"/><text>n615</text></g>
<g id="n618" transform="translate(1207,1159)"><circle r="12"/><text>n618</text></g>
<g id="n619" transform="translate(1384,1159)"><circle r="12"/><text>n619</text></g>
<g id="n620" transform="translate(1425,1159)"><circle r="12"/><text>n620</text></g>
<g id="n756" transform="translate(1247,1172)"><circle r="12"/><text>n756</text></g>
</g>
</svg>
